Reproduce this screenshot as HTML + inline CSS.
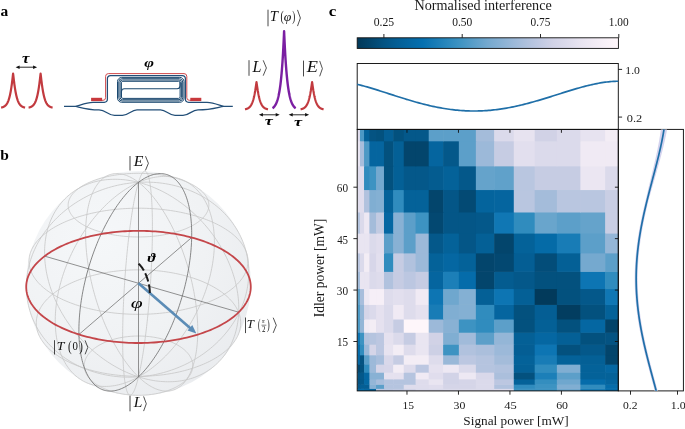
<!DOCTYPE html>
<html><head><meta charset="utf-8"><title>Figure</title>
<style>html,body{margin:0;padding:0;background:#fff;}body{width:685px;height:429px;overflow:hidden;position:relative;font-family:"Liberation Serif",serif;}svg{display:block;}</style>
</head><body>
<div style="position:absolute;left:0;top:0;width:685px;height:429px;will-change:transform"><svg width="685" height="429" viewBox="0 0 685 429">
<text transform="translate(0.45,15.61) scale(0.1546,0.1472)" font-family="Liberation Serif" font-size="100" font-style="normal" font-weight="bold" fill="#000">a</text>
<path d="M1.1,107.6 L1.2,107.58 L1.3,107.56 L1.4,107.54 L1.5,107.52 L1.6,107.5 L1.7,107.47 L1.8,107.45 L1.9,107.42 L2,107.4 L2.1,107.37 L2.2,107.34 L2.3,107.31 L2.4,107.28 L2.5,107.25 L2.6,107.22 L2.7,107.19 L2.8,107.15 L2.9,107.12 L3,107.08 L3.1,107.04 L3.2,107 L3.3,106.96 L3.4,106.91 L3.5,106.87 L3.6,106.82 L3.7,106.77 L3.8,106.72 L3.9,106.67 L4,106.61 L4.1,106.55 L4.2,106.49 L4.3,106.43 L4.4,106.37 L4.5,106.3 L4.6,106.23 L4.7,106.16 L4.8,106.09 L4.9,106.01 L5,105.93 L5.1,105.85 L5.2,105.77 L5.3,105.68 L5.4,105.58 L5.5,105.49 L5.6,105.39 L5.7,105.29 L5.8,105.18 L5.9,105.07 L6,104.96 L6.1,104.84 L6.2,104.72 L6.3,104.59 L6.4,104.46 L6.5,104.32 L6.6,104.18 L6.7,104.04 L6.8,103.88 L6.9,103.73 L7,103.56 L7.1,103.4 L7.2,103.22 L7.3,103.04 L7.4,102.85 L7.5,102.66 L7.6,102.46 L7.7,102.25 L7.8,102.04 L7.9,101.82 L8,101.59 L8.1,101.35 L8.2,101.1 L8.3,100.85 L8.4,100.58 L8.5,100.31 L8.6,100.03 L8.7,99.74 L8.8,99.44 L8.9,99.13 L9,98.81 L9.1,98.47 L9.2,98.13 L9.3,97.78 L9.4,97.41 L9.5,97.03 L9.6,96.64 L9.7,96.24 L9.8,95.82 L9.9,95.39 L10,94.95 L10.1,94.49 L10.2,94.02 L10.3,93.54 L10.4,93.04 L10.5,92.52 L10.6,91.99 L10.7,91.44 L10.8,90.88 L10.9,90.3 L11,89.7 L11.1,89.09 L11.2,88.45 L11.3,87.81 L11.4,87.14 L11.5,86.45 L11.6,85.75 L11.7,85.03 L11.8,84.29 L11.9,83.54 L12,82.76 L12.1,81.97 L12.2,81.17 L12.3,80.34 L12.4,79.51 L12.5,78.66 L12.6,77.8 L12.7,76.93 L12.8,76.06 L12.9,75.19 L13,74.35 L13.1,73.6 L13.2,74.35 L13.3,75.19 L13.4,76.06 L13.5,76.93 L13.6,77.8 L13.7,78.66 L13.8,79.51 L13.9,80.34 L14,81.17 L14.1,81.97 L14.2,82.76 L14.3,83.54 L14.4,84.29 L14.5,85.03 L14.6,85.75 L14.7,86.45 L14.8,87.14 L14.9,87.81 L15,88.45 L15.1,89.09 L15.2,89.7 L15.3,90.3 L15.4,90.88 L15.5,91.44 L15.6,91.99 L15.7,92.52 L15.8,93.04 L15.9,93.54 L16,94.02 L16.1,94.49 L16.2,94.95 L16.3,95.39 L16.4,95.82 L16.5,96.24 L16.6,96.64 L16.7,97.03 L16.8,97.41 L16.9,97.78 L17,98.13 L17.1,98.47 L17.2,98.81 L17.3,99.13 L17.4,99.44 L17.5,99.74 L17.6,100.03 L17.7,100.31 L17.8,100.58 L17.9,100.85 L18,101.1 L18.1,101.35 L18.2,101.59 L18.3,101.82 L18.4,102.04 L18.5,102.25 L18.6,102.46 L18.7,102.66 L18.8,102.85 L18.9,103.04 L19,103.22 L19.1,103.4 L19.2,103.56 L19.3,103.73 L19.4,103.88 L19.5,104.04 L19.6,104.18 L19.7,104.32 L19.8,104.46 L19.9,104.59 L20,104.72 L20.1,104.84 L20.2,104.96 L20.3,105.07 L20.4,105.18 L20.5,105.29 L20.6,105.39 L20.7,105.49 L20.8,105.58 L20.9,105.68 L21,105.77 L21.1,105.85 L21.2,105.93 L21.3,106.01 L21.4,106.09 L21.5,106.16 L21.6,106.23 L21.7,106.3 L21.8,106.37 L21.9,106.43 L22,106.49 L22.1,106.55 L22.2,106.61 L22.3,106.67 L22.4,106.72 L22.5,106.77 L22.6,106.82 L22.7,106.87 L22.8,106.91 L22.9,106.96 L23,107 L23.1,107.04 L23.2,107.08 L23.3,107.12 L23.4,107.15 L23.5,107.19 L23.6,107.22 L23.7,107.25 L23.8,107.28 L23.9,107.31 L24,107.34 L24.1,107.37 L24.2,107.4 L24.3,107.42 L24.4,107.45 L24.5,107.47 L24.6,107.5 L24.7,107.52 L24.8,107.54 L24.9,107.56 L25,107.58 L25.1,107.6" fill="none" stroke="#c23a3f" stroke-width="2.2" stroke-linejoin="round"/>
<path d="M28.6,107.6 L28.7,107.58 L28.8,107.56 L28.9,107.54 L29,107.52 L29.1,107.5 L29.2,107.47 L29.3,107.45 L29.4,107.42 L29.5,107.4 L29.6,107.37 L29.7,107.34 L29.8,107.31 L29.9,107.28 L30,107.25 L30.1,107.22 L30.2,107.19 L30.3,107.15 L30.4,107.12 L30.5,107.08 L30.6,107.04 L30.7,107 L30.8,106.96 L30.9,106.91 L31,106.87 L31.1,106.82 L31.2,106.77 L31.3,106.72 L31.4,106.67 L31.5,106.61 L31.6,106.55 L31.7,106.49 L31.8,106.43 L31.9,106.37 L32,106.3 L32.1,106.23 L32.2,106.16 L32.3,106.09 L32.4,106.01 L32.5,105.93 L32.6,105.85 L32.7,105.77 L32.8,105.68 L32.9,105.58 L33,105.49 L33.1,105.39 L33.2,105.29 L33.3,105.18 L33.4,105.07 L33.5,104.96 L33.6,104.84 L33.7,104.72 L33.8,104.59 L33.9,104.46 L34,104.32 L34.1,104.18 L34.2,104.04 L34.3,103.88 L34.4,103.73 L34.5,103.56 L34.6,103.4 L34.7,103.22 L34.8,103.04 L34.9,102.85 L35,102.66 L35.1,102.46 L35.2,102.25 L35.3,102.04 L35.4,101.82 L35.5,101.59 L35.6,101.35 L35.7,101.1 L35.8,100.85 L35.9,100.58 L36,100.31 L36.1,100.03 L36.2,99.74 L36.3,99.44 L36.4,99.13 L36.5,98.81 L36.6,98.47 L36.7,98.13 L36.8,97.78 L36.9,97.41 L37,97.03 L37.1,96.64 L37.2,96.24 L37.3,95.82 L37.4,95.39 L37.5,94.95 L37.6,94.49 L37.7,94.02 L37.8,93.54 L37.9,93.04 L38,92.52 L38.1,91.99 L38.2,91.44 L38.3,90.88 L38.4,90.3 L38.5,89.7 L38.6,89.09 L38.7,88.45 L38.8,87.81 L38.9,87.14 L39,86.45 L39.1,85.75 L39.2,85.03 L39.3,84.29 L39.4,83.54 L39.5,82.76 L39.6,81.97 L39.7,81.17 L39.8,80.34 L39.9,79.51 L40,78.66 L40.1,77.8 L40.2,76.93 L40.3,76.06 L40.4,75.19 L40.5,74.35 L40.6,73.6 L40.7,74.35 L40.8,75.19 L40.9,76.06 L41,76.93 L41.1,77.8 L41.2,78.66 L41.3,79.51 L41.4,80.34 L41.5,81.17 L41.6,81.97 L41.7,82.76 L41.8,83.54 L41.9,84.29 L42,85.03 L42.1,85.75 L42.2,86.45 L42.3,87.14 L42.4,87.81 L42.5,88.45 L42.6,89.09 L42.7,89.7 L42.8,90.3 L42.9,90.88 L43,91.44 L43.1,91.99 L43.2,92.52 L43.3,93.04 L43.4,93.54 L43.5,94.02 L43.6,94.49 L43.7,94.95 L43.8,95.39 L43.9,95.82 L44,96.24 L44.1,96.64 L44.2,97.03 L44.3,97.41 L44.4,97.78 L44.5,98.13 L44.6,98.47 L44.7,98.81 L44.8,99.13 L44.9,99.44 L45,99.74 L45.1,100.03 L45.2,100.31 L45.3,100.58 L45.4,100.85 L45.5,101.1 L45.6,101.35 L45.7,101.59 L45.8,101.82 L45.9,102.04 L46,102.25 L46.1,102.46 L46.2,102.66 L46.3,102.85 L46.4,103.04 L46.5,103.22 L46.6,103.4 L46.7,103.56 L46.8,103.73 L46.9,103.88 L47,104.04 L47.1,104.18 L47.2,104.32 L47.3,104.46 L47.4,104.59 L47.5,104.72 L47.6,104.84 L47.7,104.96 L47.8,105.07 L47.9,105.18 L48,105.29 L48.1,105.39 L48.2,105.49 L48.3,105.58 L48.4,105.68 L48.5,105.77 L48.6,105.85 L48.7,105.93 L48.8,106.01 L48.9,106.09 L49,106.16 L49.1,106.23 L49.2,106.3 L49.3,106.37 L49.4,106.43 L49.5,106.49 L49.6,106.55 L49.7,106.61 L49.8,106.67 L49.9,106.72 L50,106.77 L50.1,106.82 L50.2,106.87 L50.3,106.91 L50.4,106.96 L50.5,107 L50.6,107.04 L50.7,107.08 L50.8,107.12 L50.9,107.15 L51,107.19 L51.1,107.22 L51.2,107.25 L51.3,107.28 L51.4,107.31 L51.5,107.34 L51.6,107.37 L51.7,107.4 L51.8,107.42 L51.9,107.45 L52,107.47 L52.1,107.5 L52.2,107.52 L52.3,107.54 L52.4,107.56 L52.5,107.58 L52.6,107.6" fill="none" stroke="#c23a3f" stroke-width="2.2" stroke-linejoin="round"/>
<line x1="18.1" y1="67.2" x2="34.6" y2="67.2" stroke="#111" stroke-width="0.9"/>
<path d="M15.6,67.2 L19.6,65.4 L19.6,69Z M37.1,67.2 L33.1,65.4 L33.1,69Z" fill="#111"/>
<text transform="translate(22.11,62.92) scale(0.1671,0.1365)" font-family="Liberation Serif" font-size="100" font-style="italic" font-weight="bold" fill="#000">τ</text>
<path d="M64,106.4 L75.8,106.4 C81,107.6 88,109.9 99,109.9 C106,109.9 108,115.3 114.5,115.3 L122.5,115.3 C129,115.3 131,109.9 137,109.9 L160.5,109.9 C166.5,109.9 168.5,115.3 175,115.3 L183,115.3 C189.5,115.3 191.5,109.9 198,109.9 C210,109.9 217,107.6 223.5,106.4 L232.8,106.4" fill="none" stroke="#234f78" stroke-width="1.25"/>
<path d="M75.8,106.4 C80,105.4 86,102.4 93,102.3 L104.2,102.3 Q107.4,102.3 107.4,99.1 L107.4,78.8 Q107.4,75.6 110.6,75.6 L182.2,75.6 Q185.4,75.6 185.4,78.8 L185.4,99.1 Q185.4,102.3 188.6,102.3 L207,102.3 C214,102.4 219.5,105.4 223.5,106.4" fill="none" stroke="#234f78" stroke-width="1.25"/>
<path d="M102,100.3 L103,100.3 Q105.6,100.3 105.6,97.7 L105.6,76.4 Q105.6,73.6 108.4,73.6 L184,73.6 Q186.8,73.6 186.8,76.4 L186.8,97.7 Q186.8,100.3 189.4,100.3 L191,100.3" fill="none" stroke="#d0494c" stroke-width="1.0"/>
<rect x="91.1" y="97.8" width="11" height="3.3" fill="#c8383c"/>
<rect x="190.3" y="97.8" width="11" height="3.3" fill="#c8383c"/>
<rect x="117.5" y="77.4" width="66.5" height="24.9" rx="4.2" fill="none" stroke="#1b486f" stroke-width="1.0"/>
<rect x="118.8" y="78.7" width="63.9" height="22.3" rx="3.29" fill="none" stroke="#1b486f" stroke-width="1.0"/>
<rect x="120.1" y="80" width="61.3" height="19.7" rx="2.38" fill="none" stroke="#1b486f" stroke-width="1.0"/>
<rect x="121.4" y="81.3" width="58.7" height="17.1" rx="1.47" fill="none" stroke="#1b486f" stroke-width="1.0"/>
<path d="M121.4,97 L121.4,91.8 Q121.4,88.8 124.4,88.8 L177.1,88.8 Q180.1,88.8 180.1,85.8 L180.1,82" fill="none" stroke="#1b486f" stroke-width="1.1"/>
<text transform="translate(144.28,67.29) scale(0.1666,0.1344)" font-family="Liberation Serif" font-size="100" font-style="italic" font-weight="bold" fill="#000">φ</text>
<path d="M245,109.3 L245.1,109.28 L245.19,109.26 L245.29,109.24 L245.38,109.23 L245.48,109.2 L245.57,109.18 L245.67,109.16 L245.77,109.14 L245.86,109.11 L245.96,109.09 L246.05,109.06 L246.15,109.04 L246.25,109.01 L246.34,108.98 L246.44,108.95 L246.53,108.92 L246.63,108.89 L246.72,108.86 L246.82,108.82 L246.92,108.79 L247.01,108.75 L247.11,108.71 L247.2,108.68 L247.3,108.64 L247.4,108.59 L247.49,108.55 L247.59,108.5 L247.68,108.46 L247.78,108.41 L247.88,108.36 L247.97,108.31 L248.07,108.25 L248.16,108.2 L248.26,108.14 L248.35,108.08 L248.45,108.02 L248.55,107.95 L248.64,107.89 L248.74,107.82 L248.83,107.75 L248.93,107.67 L249.03,107.6 L249.12,107.52 L249.22,107.44 L249.31,107.35 L249.41,107.26 L249.5,107.17 L249.6,107.08 L249.7,106.98 L249.79,106.88 L249.89,106.78 L249.98,106.67 L250.08,106.56 L250.18,106.44 L250.27,106.32 L250.37,106.2 L250.46,106.07 L250.56,105.94 L250.65,105.8 L250.75,105.66 L250.85,105.52 L250.94,105.37 L251.04,105.21 L251.13,105.05 L251.23,104.88 L251.32,104.71 L251.42,104.54 L251.52,104.35 L251.61,104.16 L251.71,103.97 L251.8,103.76 L251.9,103.56 L252,103.34 L252.09,103.12 L252.19,102.89 L252.28,102.65 L252.38,102.41 L252.47,102.15 L252.57,101.89 L252.67,101.62 L252.76,101.35 L252.86,101.06 L252.95,100.77 L253.05,100.46 L253.15,100.15 L253.24,99.83 L253.34,99.49 L253.43,99.15 L253.53,98.8 L253.62,98.43 L253.72,98.06 L253.82,97.67 L253.91,97.27 L254.01,96.87 L254.1,96.45 L254.2,96.01 L254.3,95.57 L254.39,95.11 L254.49,94.64 L254.58,94.16 L254.68,93.67 L254.78,93.16 L254.87,92.64 L254.97,92.1 L255.06,91.56 L255.16,91 L255.25,90.42 L255.35,89.84 L255.45,89.24 L255.54,88.63 L255.64,88 L255.73,87.37 L255.83,86.72 L255.93,86.07 L256.02,85.41 L256.12,84.75 L256.21,84.08 L256.31,83.42 L256.4,82.78 L256.5,82.2 L256.6,82.78 L256.69,83.42 L256.79,84.08 L256.88,84.75 L256.98,85.41 L257.07,86.07 L257.17,86.72 L257.27,87.37 L257.36,88 L257.46,88.63 L257.55,89.24 L257.65,89.84 L257.75,90.42 L257.84,91 L257.94,91.56 L258.03,92.1 L258.13,92.64 L258.23,93.16 L258.32,93.67 L258.42,94.16 L258.51,94.64 L258.61,95.11 L258.7,95.57 L258.8,96.01 L258.9,96.45 L258.99,96.87 L259.09,97.27 L259.18,97.67 L259.28,98.06 L259.38,98.43 L259.47,98.8 L259.57,99.15 L259.66,99.49 L259.76,99.83 L259.85,100.15 L259.95,100.46 L260.05,100.77 L260.14,101.06 L260.24,101.35 L260.33,101.62 L260.43,101.89 L260.52,102.15 L260.62,102.41 L260.72,102.65 L260.81,102.89 L260.91,103.12 L261,103.34 L261.1,103.56 L261.2,103.76 L261.29,103.97 L261.39,104.16 L261.48,104.35 L261.58,104.54 L261.68,104.71 L261.77,104.88 L261.87,105.05 L261.96,105.21 L262.06,105.37 L262.15,105.52 L262.25,105.66 L262.35,105.8 L262.44,105.94 L262.54,106.07 L262.63,106.2 L262.73,106.32 L262.82,106.44 L262.92,106.56 L263.02,106.67 L263.11,106.78 L263.21,106.88 L263.3,106.98 L263.4,107.08 L263.5,107.17 L263.59,107.26 L263.69,107.35 L263.78,107.44 L263.88,107.52 L263.98,107.6 L264.07,107.67 L264.17,107.75 L264.26,107.82 L264.36,107.89 L264.45,107.95 L264.55,108.02 L264.65,108.08 L264.74,108.14 L264.84,108.2 L264.93,108.25 L265.03,108.31 L265.12,108.36 L265.22,108.41 L265.32,108.46 L265.41,108.5 L265.51,108.55 L265.6,108.59 L265.7,108.64 L265.8,108.68 L265.89,108.71 L265.99,108.75 L266.08,108.79 L266.18,108.82 L266.27,108.86 L266.37,108.89 L266.47,108.92 L266.56,108.95 L266.66,108.98 L266.75,109.01 L266.85,109.04 L266.95,109.06 L267.04,109.09 L267.14,109.11 L267.23,109.14 L267.33,109.16 L267.43,109.18 L267.52,109.2 L267.62,109.23 L267.71,109.24 L267.81,109.26 L267.9,109.28 L268,109.3" fill="none" stroke="#c23a3f" stroke-width="2.2" stroke-linejoin="round"/>
<path d="M300.6,109.3 L300.7,109.28 L300.79,109.26 L300.89,109.24 L300.98,109.23 L301.08,109.2 L301.18,109.18 L301.27,109.16 L301.37,109.14 L301.46,109.11 L301.56,109.09 L301.65,109.06 L301.75,109.04 L301.85,109.01 L301.94,108.98 L302.04,108.95 L302.13,108.92 L302.23,108.89 L302.33,108.86 L302.42,108.82 L302.52,108.79 L302.61,108.75 L302.71,108.71 L302.8,108.68 L302.9,108.64 L303,108.59 L303.09,108.55 L303.19,108.5 L303.28,108.46 L303.38,108.41 L303.48,108.36 L303.57,108.31 L303.67,108.25 L303.76,108.2 L303.86,108.14 L303.95,108.08 L304.05,108.02 L304.15,107.95 L304.24,107.89 L304.34,107.82 L304.43,107.75 L304.53,107.67 L304.62,107.6 L304.72,107.52 L304.82,107.44 L304.91,107.35 L305.01,107.26 L305.1,107.17 L305.2,107.08 L305.3,106.98 L305.39,106.88 L305.49,106.78 L305.58,106.67 L305.68,106.56 L305.78,106.44 L305.87,106.32 L305.97,106.2 L306.06,106.07 L306.16,105.94 L306.25,105.8 L306.35,105.66 L306.45,105.52 L306.54,105.37 L306.64,105.21 L306.73,105.05 L306.83,104.88 L306.93,104.71 L307.02,104.54 L307.12,104.35 L307.21,104.16 L307.31,103.97 L307.4,103.76 L307.5,103.56 L307.6,103.34 L307.69,103.12 L307.79,102.89 L307.88,102.65 L307.98,102.41 L308.08,102.15 L308.17,101.89 L308.27,101.62 L308.36,101.35 L308.46,101.06 L308.55,100.77 L308.65,100.46 L308.75,100.15 L308.84,99.83 L308.94,99.49 L309.03,99.15 L309.13,98.8 L309.23,98.43 L309.32,98.06 L309.42,97.67 L309.51,97.27 L309.61,96.87 L309.7,96.45 L309.8,96.01 L309.9,95.57 L309.99,95.11 L310.09,94.64 L310.18,94.16 L310.28,93.67 L310.38,93.16 L310.47,92.64 L310.57,92.1 L310.66,91.56 L310.76,91 L310.85,90.42 L310.95,89.84 L311.05,89.24 L311.14,88.63 L311.24,88 L311.33,87.37 L311.43,86.72 L311.53,86.07 L311.62,85.41 L311.72,84.75 L311.81,84.08 L311.91,83.42 L312,82.78 L312.1,82.2 L312.2,82.78 L312.29,83.42 L312.39,84.08 L312.48,84.75 L312.58,85.41 L312.68,86.07 L312.77,86.72 L312.87,87.37 L312.96,88 L313.06,88.63 L313.15,89.24 L313.25,89.84 L313.35,90.42 L313.44,91 L313.54,91.56 L313.63,92.1 L313.73,92.64 L313.83,93.16 L313.92,93.67 L314.02,94.16 L314.11,94.64 L314.21,95.11 L314.3,95.57 L314.4,96.01 L314.5,96.45 L314.59,96.87 L314.69,97.27 L314.78,97.67 L314.88,98.06 L314.98,98.43 L315.07,98.8 L315.17,99.15 L315.26,99.49 L315.36,99.83 L315.45,100.15 L315.55,100.46 L315.65,100.77 L315.74,101.06 L315.84,101.35 L315.93,101.62 L316.03,101.89 L316.12,102.15 L316.22,102.41 L316.32,102.65 L316.41,102.89 L316.51,103.12 L316.6,103.34 L316.7,103.56 L316.8,103.76 L316.89,103.97 L316.99,104.16 L317.08,104.35 L317.18,104.54 L317.28,104.71 L317.37,104.88 L317.47,105.05 L317.56,105.21 L317.66,105.37 L317.75,105.52 L317.85,105.66 L317.95,105.8 L318.04,105.94 L318.14,106.07 L318.23,106.2 L318.33,106.32 L318.43,106.44 L318.52,106.56 L318.62,106.67 L318.71,106.78 L318.81,106.88 L318.9,106.98 L319,107.08 L319.1,107.17 L319.19,107.26 L319.29,107.35 L319.38,107.44 L319.48,107.52 L319.58,107.6 L319.67,107.67 L319.77,107.75 L319.86,107.82 L319.96,107.89 L320.05,107.95 L320.15,108.02 L320.25,108.08 L320.34,108.14 L320.44,108.2 L320.53,108.25 L320.63,108.31 L320.73,108.36 L320.82,108.41 L320.92,108.46 L321.01,108.5 L321.11,108.55 L321.2,108.59 L321.3,108.64 L321.4,108.68 L321.49,108.71 L321.59,108.75 L321.68,108.79 L321.78,108.82 L321.88,108.86 L321.97,108.89 L322.07,108.92 L322.16,108.95 L322.26,108.98 L322.35,109.01 L322.45,109.04 L322.55,109.06 L322.64,109.09 L322.74,109.11 L322.83,109.14 L322.93,109.16 L323.03,109.18 L323.12,109.2 L323.22,109.23 L323.31,109.24 L323.41,109.26 L323.5,109.28 L323.6,109.3" fill="none" stroke="#c23a3f" stroke-width="2.2" stroke-linejoin="round"/>
<path d="M272.5,108.3 L272.6,108.23 L272.69,108.16 L272.79,108.08 L272.89,108.01 L272.98,107.93 L273.08,107.85 L273.18,107.76 L273.27,107.68 L273.37,107.59 L273.47,107.5 L273.56,107.4 L273.66,107.3 L273.76,107.2 L273.85,107.1 L273.95,107 L274.05,106.89 L274.14,106.77 L274.24,106.66 L274.34,106.54 L274.43,106.42 L274.53,106.29 L274.63,106.16 L274.72,106.03 L274.82,105.89 L274.92,105.75 L275.01,105.6 L275.11,105.45 L275.21,105.3 L275.3,105.14 L275.4,104.97 L275.5,104.8 L275.59,104.63 L275.69,104.45 L275.79,104.26 L275.88,104.07 L275.98,103.88 L276.08,103.68 L276.17,103.47 L276.27,103.26 L276.37,103.04 L276.46,102.81 L276.56,102.57 L276.66,102.33 L276.75,102.09 L276.85,101.83 L276.95,101.57 L277.04,101.3 L277.14,101.02 L277.24,100.73 L277.33,100.44 L277.43,100.14 L277.53,99.82 L277.62,99.5 L277.72,99.17 L277.82,98.83 L277.91,98.47 L278.01,98.11 L278.11,97.74 L278.2,97.35 L278.3,96.96 L278.4,96.55 L278.49,96.13 L278.59,95.7 L278.69,95.26 L278.78,94.8 L278.88,94.33 L278.98,93.84 L279.07,93.34 L279.17,92.83 L279.27,92.29 L279.36,91.75 L279.46,91.19 L279.56,90.61 L279.65,90.01 L279.75,89.4 L279.85,88.77 L279.94,88.11 L280.04,87.44 L280.14,86.75 L280.23,86.04 L280.33,85.31 L280.43,84.56 L280.52,83.78 L280.62,82.98 L280.72,82.16 L280.81,81.31 L280.91,80.44 L281.01,79.54 L281.1,78.62 L281.2,77.66 L281.3,76.68 L281.39,75.67 L281.49,74.63 L281.59,73.56 L281.68,72.46 L281.78,71.32 L281.88,70.15 L281.97,68.95 L282.07,67.71 L282.17,66.43 L282.26,65.12 L282.36,63.76 L282.46,62.37 L282.55,60.93 L282.65,59.46 L282.75,57.93 L282.84,56.37 L282.94,54.75 L283.04,53.09 L283.13,51.38 L283.23,49.62 L283.33,47.8 L283.42,45.93 L283.52,44.01 L283.62,42.03 L283.71,39.99 L283.81,37.89 L283.91,35.72 L284,33.49 L284.1,31.2 L284.2,33.49 L284.29,35.72 L284.39,37.89 L284.49,39.99 L284.58,42.03 L284.68,44.01 L284.78,45.93 L284.87,47.8 L284.97,49.62 L285.07,51.38 L285.16,53.09 L285.26,54.75 L285.36,56.37 L285.45,57.93 L285.55,59.46 L285.65,60.93 L285.74,62.37 L285.84,63.76 L285.94,65.12 L286.03,66.43 L286.13,67.71 L286.23,68.95 L286.32,70.15 L286.42,71.32 L286.52,72.46 L286.61,73.56 L286.71,74.63 L286.81,75.67 L286.9,76.68 L287,77.66 L287.1,78.62 L287.19,79.54 L287.29,80.44 L287.39,81.31 L287.48,82.16 L287.58,82.98 L287.68,83.78 L287.77,84.56 L287.87,85.31 L287.97,86.04 L288.06,86.75 L288.16,87.44 L288.26,88.11 L288.35,88.77 L288.45,89.4 L288.55,90.01 L288.64,90.61 L288.74,91.19 L288.84,91.75 L288.93,92.29 L289.03,92.83 L289.13,93.34 L289.22,93.84 L289.32,94.33 L289.42,94.8 L289.51,95.26 L289.61,95.7 L289.71,96.13 L289.8,96.55 L289.9,96.96 L290,97.35 L290.09,97.74 L290.19,98.11 L290.29,98.47 L290.38,98.83 L290.48,99.17 L290.58,99.5 L290.67,99.82 L290.77,100.14 L290.87,100.44 L290.96,100.73 L291.06,101.02 L291.16,101.3 L291.25,101.57 L291.35,101.83 L291.45,102.09 L291.54,102.33 L291.64,102.57 L291.74,102.81 L291.83,103.04 L291.93,103.26 L292.03,103.47 L292.12,103.68 L292.22,103.88 L292.32,104.07 L292.41,104.26 L292.51,104.45 L292.61,104.63 L292.7,104.8 L292.8,104.97 L292.9,105.14 L292.99,105.3 L293.09,105.45 L293.19,105.6 L293.28,105.75 L293.38,105.89 L293.48,106.03 L293.57,106.16 L293.67,106.29 L293.77,106.42 L293.86,106.54 L293.96,106.66 L294.06,106.77 L294.15,106.89 L294.25,107 L294.35,107.1 L294.44,107.2 L294.54,107.3 L294.64,107.4 L294.73,107.5 L294.83,107.59 L294.93,107.68 L295.02,107.76 L295.12,107.85 L295.22,107.93 L295.31,108.01 L295.41,108.08 L295.51,108.16 L295.6,108.23 L295.7,108.3" fill="none" stroke="#7b1fa2" stroke-width="2.4" stroke-linejoin="round"/>
<line x1="261.4" y1="114.8" x2="277.2" y2="114.8" stroke="#111" stroke-width="0.9"/>
<path d="M258.9,114.8 L262.9,113 L262.9,116.6Z M279.7,114.8 L275.7,113 L275.7,116.6Z" fill="#111"/>
<line x1="291.2" y1="114.8" x2="306.6" y2="114.8" stroke="#111" stroke-width="0.9"/>
<path d="M288.7,114.8 L292.7,113 L292.7,116.6Z M309.1,114.8 L305.1,113 L305.1,116.6Z" fill="#111"/>
<text transform="translate(264.68,124.62) scale(0.1805,0.1301)" font-family="Liberation Serif" font-size="100" font-style="italic" font-weight="bold" fill="#000">τ</text>
<text transform="translate(294.08,125.82) scale(0.1805,0.1301)" font-family="Liberation Serif" font-size="100" font-style="italic" font-weight="bold" fill="#000">τ</text>
<line x1="249" y1="60.2" x2="249" y2="75.8" stroke="#1a1a1a" stroke-width="0.8"/>
<text transform="translate(252.44,72.25) scale(0.1614,0.1649)" font-family="Liberation Serif" font-size="100" font-style="italic" font-weight="normal" fill="#111">L</text>
<path d="M263.2,60.3 L266.4,68 L263.2,75.7" fill="none" stroke="#1a1a1a" stroke-width="0.75" stroke-linejoin="miter"/>
<line x1="303.5" y1="60.6" x2="303.5" y2="76.4" stroke="#1a1a1a" stroke-width="0.8"/>
<text transform="translate(306.76,72.25) scale(0.1830,0.1604)" font-family="Liberation Serif" font-size="100" font-style="italic" font-weight="normal" fill="#111">E</text>
<path d="M319.7,60.9 L322.4,68.6 L319.7,76.3" fill="none" stroke="#1a1a1a" stroke-width="0.75" stroke-linejoin="miter"/>
<line x1="268" y1="9.7" x2="268" y2="26.3" stroke="#1a1a1a" stroke-width="0.8"/>
<text transform="translate(269.79,21.35) scale(0.1473,0.1405)" font-family="Liberation Serif" font-size="100" font-style="italic" font-weight="normal" fill="#111">T</text>
<text transform="translate(280.62,21.19) scale(0.0973,0.1390)" font-family="Liberation Serif" font-size="100" font-style="normal" font-weight="normal" fill="#111">(</text>
<text transform="translate(283.84,21.04) scale(0.1371,0.1271)" font-family="Liberation Serif" font-size="100" font-style="italic" font-weight="normal" fill="#111">φ</text>
<text transform="translate(292.36,21.19) scale(0.0896,0.1390)" font-family="Liberation Serif" font-size="100" font-style="normal" font-weight="normal" fill="#111">)</text>
<path d="M297.5,9.9 L300.4,18 L297.5,26.1" fill="none" stroke="#1a1a1a" stroke-width="0.75" stroke-linejoin="miter"/>
<text transform="translate(0.25,160.21) scale(0.1551,0.1435)" font-family="Liberation Serif" font-size="100" font-style="normal" font-weight="bold" fill="#000">b</text>
<defs><radialGradient id="sph" cx="0.33" cy="0.3" r="0.85"><stop offset="0" stop-color="#f5f7f9"/><stop offset="0.55" stop-color="#f0f2f4"/><stop offset="1" stop-color="#e9ebee"/></radialGradient></defs>
<circle cx="138.5" cy="283.26" r="112.36" fill="url(#sph)"/>
<path d="M138.5,182.33 L141.14,183.04 L143.78,183.82 L146.42,184.67 L149.06,185.6 L151.7,186.6 L154.33,187.66 L156.96,188.8 L159.57,190.01 L162.18,191.28 L164.77,192.62 L167.34,194.03 L169.9,195.51 L172.43,197.05 L174.95,198.65 L177.44,200.31 L179.9,202.04 L182.34,203.83 L184.75,205.67 L187.12,207.57 L189.46,209.53 L191.77,211.54 L194.04,213.61 L196.27,215.72 L198.46,217.89 L200.6,220.1 L202.71,222.36 L204.76,224.66 L206.77,227.01 L208.73,229.39 L210.64,231.82 L212.49,234.28 L214.29,236.77 L216.04,239.3 L217.73,241.86 L219.36,244.45 L220.93,247.06 L222.45,249.7 L223.9,252.36 L225.28,255.04 L226.61,257.74 L227.87,260.46 L229.06,263.18 L230.19,265.92 L231.25,268.67 L232.25,271.43 L233.17,274.19 L234.03,276.96 L234.82,279.73 L235.53,282.49 L236.18,285.25 L236.75,288.01 L237.26,290.76 L237.69,293.49 L238.05,296.22 L238.34,298.93 L238.56,301.63 L238.71,304.31 L238.79,306.97 L238.79,309.6 L238.72,312.21 L238.59,314.8 L238.38,317.36 L238.1,319.89 L237.75,322.39 L237.34,324.85 L236.85,327.28 L236.3,329.68 L235.68,332.03 L234.99,334.35 L234.23,336.62 L233.42,338.85 L232.53,341.04 L231.59,343.18 L230.58,345.28 L229.51,347.32 L228.37,349.32 L227.18,351.27 L225.93,353.16 L224.63,355 L223.26,356.79 L221.84,358.52 L220.37,360.19 L218.85,361.81 L217.27,363.36 L215.65,364.86 L213.97,366.3 L212.25,367.68 L210.48,369 L208.67,370.25 L206.81,371.45 L204.91,372.58 L202.98,373.64 L201,374.64 L198.98,375.58 L196.93,376.45 L194.85,377.26 L192.73,378 L190.58,378.67 L188.4,379.28 L186.2,379.82 L183.96,380.3 L181.7,380.71 L179.42,381.05 L177.12,381.33 L174.79,381.54 L172.45,381.68 L170.08,381.76 L167.71,381.77 L165.31,381.71 L162.91,381.59 L160.49,381.41 L158.07,381.16 L155.63,380.85 L153.19,380.47 L150.75,380.02 L148.3,379.52 L145.85,378.95 L143.4,378.32 L140.95,377.63 L138.5,376.87" fill="none" stroke="#c6c6c6" stroke-width="0.8" />
<path d="M138.5,182.33 L141.52,182.19 L144.54,182.13 L147.55,182.14 L150.55,182.22 L153.55,182.37 L156.53,182.59 L159.49,182.88 L162.44,183.25 L165.37,183.69 L168.27,184.19 L171.16,184.77 L174.01,185.41 L176.84,186.13 L179.64,186.91 L182.4,187.76 L185.13,188.67 L187.83,189.65 L190.48,190.7 L193.1,191.81 L195.67,192.98 L198.21,194.22 L200.69,195.51 L203.13,196.87 L205.51,198.28 L207.85,199.76 L210.14,201.28 L212.37,202.87 L214.54,204.51 L216.66,206.19 L218.72,207.94 L220.72,209.73 L222.66,211.56 L224.54,213.45 L226.35,215.38 L228.1,217.35 L229.78,219.37 L231.4,221.43 L232.95,223.52 L234.43,225.66 L235.84,227.83 L237.18,230.03 L238.45,232.26 L239.65,234.53 L240.78,236.83 L241.83,239.15 L242.81,241.5 L243.72,243.87 L244.55,246.27 L245.31,248.69 L245.99,251.12 L246.6,253.57 L247.13,256.04 L247.59,258.52 L247.97,261.01 L248.28,263.52 L248.51,266.03 L248.66,268.55 L248.74,271.07 L248.75,273.6 L248.68,276.13 L248.53,278.65 L248.31,281.18 L248.02,283.7 L247.65,286.22 L247.21,288.73 L246.7,291.24 L246.12,293.73 L245.46,296.21 L244.73,298.68 L243.94,301.13 L243.07,303.57 L242.13,305.99 L241.13,308.39 L240.06,310.77 L238.92,313.12 L237.72,315.46 L236.45,317.76 L235.12,320.04 L233.73,322.3 L232.27,324.52 L230.76,326.71 L229.18,328.87 L227.55,331 L225.86,333.09 L224.11,335.15 L222.31,337.17 L220.46,339.15 L218.55,341.09 L216.59,342.99 L214.59,344.85 L212.53,346.67 L210.43,348.44 L208.28,350.17 L206.09,351.85 L203.85,353.49 L201.58,355.07 L199.26,356.61 L196.9,358.1 L194.51,359.54 L192.08,360.93 L189.62,362.26 L187.13,363.54 L184.6,364.77 L182.05,365.95 L179.46,367.06 L176.85,368.13 L174.22,369.13 L171.56,370.09 L168.89,370.98 L166.19,371.81 L163.47,372.59 L160.74,373.31 L158,373.96 L155.24,374.56 L152.47,375.1 L149.69,375.58 L146.9,375.99 L144.1,376.35 L141.3,376.64 L138.5,376.87" fill="none" stroke="#c6c6c6" stroke-width="0.8" />
<path d="M138.5,182.33 L140.66,181.42 L142.8,180.59 L144.94,179.83 L147.07,179.15 L149.19,178.54 L151.3,178.01 L153.39,177.55 L155.46,177.17 L157.52,176.87 L159.55,176.64 L161.57,176.48 L163.56,176.4 L165.53,176.4 L167.48,176.47 L169.4,176.62 L171.29,176.83 L173.15,177.13 L174.99,177.49 L176.79,177.93 L178.56,178.44 L180.3,179.02 L182,179.67 L183.67,180.39 L185.3,181.17 L186.89,182.03 L188.45,182.95 L189.97,183.94 L191.44,184.99 L192.88,186.11 L194.28,187.29 L195.63,188.53 L196.94,189.83 L198.21,191.19 L199.43,192.61 L200.61,194.08 L201.74,195.61 L202.82,197.2 L203.86,198.84 L204.86,200.53 L205.8,202.27 L206.7,204.06 L207.55,205.9 L208.35,207.79 L209.1,209.72 L209.8,211.69 L210.45,213.71 L211.06,215.77 L211.61,217.87 L212.12,220 L212.57,222.18 L212.98,224.38 L213.33,226.62 L213.63,228.9 L213.89,231.2 L214.09,233.53 L214.24,235.89 L214.35,238.28 L214.4,240.69 L214.4,243.13 L214.36,245.58 L214.26,248.06 L214.11,250.55 L213.92,253.06 L213.68,255.59 L213.38,258.13 L213.04,260.69 L212.65,263.25 L212.22,265.82 L211.73,268.4 L211.2,270.99 L210.63,273.58 L210,276.18 L209.33,278.78 L208.62,281.38 L207.86,283.97 L207.06,286.57 L206.21,289.16 L205.32,291.74 L204.38,294.32 L203.41,296.89 L202.39,299.45 L201.33,301.99 L200.24,304.53 L199.1,307.05 L197.92,309.55 L196.71,312.04 L195.45,314.51 L194.16,316.96 L192.84,319.38 L191.48,321.79 L190.08,324.17 L188.65,326.52 L187.19,328.85 L185.69,331.15 L184.16,333.42 L182.61,335.66 L181.02,337.86 L179.4,340.04 L177.76,342.17 L176.09,344.28 L174.39,346.34 L172.67,348.36 L170.92,350.35 L169.15,352.29 L167.36,354.2 L165.54,356.06 L163.71,357.87 L161.85,359.64 L159.98,361.36 L158.09,363.03 L156.19,364.65 L154.27,366.23 L152.33,367.75 L150.39,369.22 L148.43,370.63 L146.46,371.99 L144.48,373.3 L142.49,374.55 L140.5,375.74 L138.5,376.87" fill="none" stroke="#c6c6c6" stroke-width="0.8" />
<path d="M138.5,182.33 L138.9,181.04 L139.3,179.83 L139.7,178.7 L140.1,177.64 L140.49,176.66 L140.88,175.76 L141.27,174.94 L141.65,174.2 L142.03,173.54 L142.41,172.96 L142.78,172.45 L143.15,172.03 L143.51,171.68 L143.87,171.42 L144.23,171.23 L144.57,171.12 L144.92,171.08 L145.25,171.13 L145.58,171.25 L145.91,171.45 L146.23,171.72 L146.54,172.07 L146.84,172.49 L147.14,172.99 L147.43,173.56 L147.71,174.2 L147.99,174.92 L148.26,175.7 L148.52,176.55 L148.78,177.48 L149.02,178.47 L149.26,179.52 L149.49,180.64 L149.71,181.83 L149.92,183.08 L150.13,184.39 L150.33,185.76 L150.51,187.19 L150.69,188.69 L150.87,190.23 L151.03,191.84 L151.18,193.5 L151.33,195.21 L151.46,196.98 L151.59,198.8 L151.71,200.66 L151.82,202.58 L151.92,204.54 L152.01,206.55 L152.09,208.61 L152.16,210.7 L152.22,212.84 L152.28,215.02 L152.33,217.24 L152.36,219.49 L152.39,221.78 L152.41,224.11 L152.42,226.47 L152.42,228.86 L152.41,231.28 L152.39,233.73 L152.37,236.21 L152.33,238.71 L152.29,241.24 L152.23,243.79 L152.17,246.37 L152.1,248.96 L152.02,251.57 L151.94,254.2 L151.84,256.85 L151.74,259.51 L151.62,262.18 L151.5,264.86 L151.37,267.56 L151.24,270.26 L151.09,272.97 L150.94,275.69 L150.78,278.4 L150.61,281.13 L150.43,283.85 L150.25,286.57 L150.06,289.29 L149.86,292.01 L149.65,294.72 L149.44,297.43 L149.22,300.12 L148.99,302.81 L148.75,305.49 L148.51,308.16 L148.27,310.81 L148.01,313.45 L147.75,316.07 L147.48,318.67 L147.21,321.25 L146.93,323.82 L146.65,326.35 L146.36,328.87 L146.06,331.36 L145.76,333.82 L145.45,336.26 L145.14,338.67 L144.83,341.04 L144.51,343.38 L144.18,345.69 L143.85,347.96 L143.52,350.2 L143.18,352.4 L142.84,354.56 L142.49,356.67 L142.14,358.75 L141.79,360.78 L141.43,362.77 L141.07,364.71 L140.71,366.6 L140.35,368.44 L139.98,370.23 L139.61,371.97 L139.24,373.66 L138.87,375.3 L138.5,376.87" fill="none" stroke="#c6c6c6" stroke-width="0.8" />
<path d="M138.5,182.33 L136.98,181.21 L135.47,180.16 L133.97,179.19 L132.47,178.3 L130.98,177.48 L129.51,176.74 L128.04,176.08 L126.59,175.49 L125.15,174.98 L123.72,174.56 L122.31,174.2 L120.92,173.93 L119.54,173.73 L118.18,173.61 L116.84,173.57 L115.52,173.6 L114.22,173.71 L112.94,173.89 L111.69,174.15 L110.45,174.48 L109.24,174.88 L108.06,175.36 L106.9,175.91 L105.76,176.54 L104.66,177.23 L103.57,177.99 L102.52,178.82 L101.49,179.72 L100.5,180.69 L99.53,181.72 L98.59,182.82 L97.68,183.98 L96.81,185.2 L95.96,186.49 L95.14,187.83 L94.36,189.24 L93.61,190.71 L92.89,192.23 L92.2,193.8 L91.55,195.43 L90.93,197.12 L90.34,198.86 L89.79,200.64 L89.27,202.48 L88.78,204.37 L88.33,206.3 L87.92,208.27 L87.53,210.3 L87.19,212.36 L86.87,214.46 L86.59,216.61 L86.35,218.79 L86.14,221.01 L85.96,223.26 L85.82,225.55 L85.72,227.87 L85.65,230.22 L85.61,232.61 L85.61,235.02 L85.64,237.45 L85.71,239.91 L85.81,242.4 L85.94,244.91 L86.11,247.43 L86.31,249.98 L86.55,252.55 L86.82,255.13 L87.12,257.72 L87.45,260.33 L87.82,262.95 L88.22,265.58 L88.65,268.22 L89.11,270.87 L89.6,273.53 L90.13,276.18 L90.68,278.84 L91.27,281.5 L91.88,284.17 L92.53,286.83 L93.2,289.48 L93.91,292.14 L94.64,294.78 L95.4,297.42 L96.19,300.05 L97,302.67 L97.85,305.28 L98.71,307.87 L99.61,310.45 L100.53,313.02 L101.47,315.56 L102.44,318.09 L103.44,320.59 L104.45,323.08 L105.49,325.54 L106.55,327.98 L107.64,330.39 L108.74,332.77 L109.87,335.12 L111.01,337.44 L112.18,339.74 L113.36,341.99 L114.56,344.22 L115.78,346.41 L117.01,348.56 L118.27,350.67 L119.53,352.74 L120.82,354.77 L122.11,356.76 L123.42,358.71 L124.74,360.61 L126.08,362.46 L127.42,364.27 L128.78,366.03 L130.15,367.74 L131.52,369.4 L132.9,371 L134.29,372.55 L135.69,374.05 L137.09,375.49 L138.5,376.87" fill="none" stroke="#c6c6c6" stroke-width="0.8" />
<path d="M138.5,182.33 L135.87,181.7 L133.24,181.13 L130.62,180.65 L128.01,180.23 L125.42,179.89 L122.83,179.62 L120.27,179.43 L117.72,179.31 L115.2,179.27 L112.69,179.3 L110.21,179.4 L107.76,179.57 L105.33,179.82 L102.93,180.14 L100.56,180.53 L98.23,180.99 L95.92,181.52 L93.66,182.12 L91.43,182.79 L89.24,183.53 L87.08,184.33 L84.97,185.21 L82.9,186.14 L80.88,187.15 L78.9,188.22 L76.97,189.35 L75.08,190.54 L73.25,191.79 L71.46,193.1 L69.72,194.48 L68.04,195.9 L66.41,197.39 L64.83,198.93 L63.3,200.52 L61.84,202.17 L60.42,203.87 L59.07,205.61 L57.77,207.41 L56.53,209.25 L55.35,211.14 L54.23,213.07 L53.17,215.04 L52.17,217.06 L51.23,219.11 L50.35,221.21 L49.53,223.34 L48.77,225.5 L48.08,227.7 L47.45,229.93 L46.88,232.19 L46.37,234.49 L45.93,236.8 L45.55,239.15 L45.23,241.52 L44.98,243.91 L44.78,246.32 L44.66,248.75 L44.59,251.2 L44.59,253.67 L44.64,256.15 L44.76,258.64 L44.95,261.15 L45.19,263.67 L45.5,266.19 L45.86,268.72 L46.29,271.26 L46.78,273.8 L47.32,276.34 L47.93,278.89 L48.59,281.43 L49.31,283.97 L50.09,286.51 L50.93,289.04 L51.83,291.56 L52.78,294.08 L53.78,296.58 L54.84,299.08 L55.95,301.56 L57.12,304.03 L58.34,306.48 L59.61,308.92 L60.93,311.33 L62.3,313.73 L63.72,316.1 L65.18,318.45 L66.7,320.78 L68.26,323.08 L69.86,325.36 L71.51,327.61 L73.21,329.83 L74.94,332.01 L76.72,334.17 L78.54,336.29 L80.39,338.38 L82.29,340.43 L84.22,342.44 L86.19,344.42 L88.19,346.36 L90.23,348.25 L92.3,350.11 L94.39,351.92 L96.52,353.69 L98.68,355.41 L100.87,357.09 L103.08,358.72 L105.32,360.3 L107.58,361.83 L109.86,363.31 L112.16,364.74 L114.49,366.12 L116.83,367.45 L119.19,368.72 L121.56,369.94 L123.95,371.1 L126.35,372.21 L128.77,373.26 L131.19,374.25 L133.62,375.19 L136.06,376.06 L138.5,376.87" fill="none" stroke="#c6c6c6" stroke-width="0.8" />
<path d="M138.5,182.33 L135.48,182.54 L132.46,182.82 L129.44,183.17 L126.42,183.6 L123.42,184.09 L120.42,184.66 L117.44,185.29 L114.47,186 L111.52,186.77 L108.59,187.62 L105.68,188.53 L102.8,189.51 L99.94,190.55 L97.1,191.66 L94.3,192.84 L91.53,194.08 L88.8,195.39 L86.1,196.75 L83.44,198.18 L80.82,199.66 L78.25,201.21 L75.72,202.81 L73.23,204.47 L70.8,206.18 L68.41,207.95 L66.08,209.76 L63.8,211.63 L61.57,213.55 L59.4,215.51 L57.29,217.53 L55.24,219.58 L53.25,221.68 L51.33,223.82 L49.46,225.99 L47.67,228.21 L45.93,230.46 L44.27,232.75 L42.68,235.07 L41.15,237.41 L39.7,239.79 L38.32,242.2 L37.01,244.62 L35.77,247.08 L34.61,249.55 L33.52,252.05 L32.51,254.56 L31.57,257.08 L30.71,259.62 L29.93,262.18 L29.23,264.74 L28.6,267.31 L28.05,269.89 L27.57,272.47 L27.18,275.06 L26.86,277.64 L26.62,280.23 L26.46,282.81 L26.38,285.39 L26.38,287.96 L26.45,290.52 L26.6,293.07 L26.82,295.61 L27.13,298.14 L27.51,300.65 L27.96,303.14 L28.49,305.62 L29.1,308.07 L29.77,310.51 L30.53,312.92 L31.35,315.3 L32.24,317.66 L33.21,319.99 L34.25,322.29 L35.35,324.56 L36.52,326.79 L37.76,328.99 L39.07,331.16 L40.44,333.29 L41.88,335.38 L43.37,337.44 L44.93,339.45 L46.55,341.42 L48.23,343.35 L49.97,345.23 L51.76,347.07 L53.61,348.86 L55.51,350.6 L57.46,352.3 L59.47,353.95 L61.52,355.54 L63.63,357.09 L65.78,358.58 L67.97,360.02 L70.21,361.41 L72.49,362.74 L74.82,364.02 L77.18,365.24 L79.58,366.4 L82.01,367.51 L84.48,368.56 L86.98,369.55 L89.51,370.49 L92.07,371.36 L94.66,372.17 L97.28,372.93 L99.92,373.62 L102.58,374.25 L105.27,374.83 L107.97,375.34 L110.69,375.79 L113.43,376.18 L116.18,376.5 L118.95,376.76 L121.72,376.97 L124.5,377.11 L127.3,377.18 L130.09,377.2 L132.89,377.15 L135.7,377.04 L138.5,376.87" fill="none" stroke="#c6c6c6" stroke-width="0.8" />
<path d="M138.5,182.33 L136.34,183.31 L134.17,184.37 L132.01,185.5 L129.84,186.7 L127.67,187.98 L125.51,189.32 L123.35,190.74 L121.2,192.22 L119.05,193.78 L116.92,195.4 L114.8,197.09 L112.68,198.84 L110.59,200.66 L108.51,202.54 L106.45,204.48 L104.41,206.48 L102.39,208.54 L100.4,210.66 L98.43,212.83 L96.48,215.05 L94.57,217.33 L92.68,219.66 L90.83,222.04 L89,224.46 L87.22,226.93 L85.47,229.44 L83.75,232 L82.08,234.59 L80.44,237.22 L78.85,239.88 L77.3,242.58 L75.79,245.3 L74.33,248.06 L72.92,250.84 L71.55,253.64 L70.24,256.46 L68.97,259.31 L67.75,262.17 L66.59,265.04 L65.48,267.93 L64.42,270.83 L63.42,273.73 L62.47,276.64 L61.58,279.55 L60.75,282.46 L59.97,285.37 L59.25,288.28 L58.59,291.18 L57.98,294.06 L57.44,296.94 L56.96,299.8 L56.53,302.65 L56.17,305.48 L55.86,308.29 L55.62,311.08 L55.43,313.84 L55.31,316.57 L55.25,319.28 L55.24,321.95 L55.3,324.59 L55.41,327.2 L55.59,329.76 L55.82,332.29 L56.12,334.78 L56.47,337.23 L56.88,339.63 L57.34,341.99 L57.86,344.29 L58.44,346.55 L59.08,348.76 L59.76,350.92 L60.51,353.02 L61.3,355.07 L62.15,357.06 L63.05,358.99 L64,360.87 L65,362.68 L66.05,364.44 L67.14,366.13 L68.29,367.76 L69.47,369.32 L70.71,370.82 L71.98,372.26 L73.3,373.62 L74.66,374.93 L76.06,376.16 L77.5,377.32 L78.98,378.42 L80.49,379.45 L82.04,380.41 L83.63,381.3 L85.24,382.11 L86.89,382.86 L88.57,383.54 L90.27,384.15 L92.01,384.68 L93.77,385.15 L95.55,385.54 L97.36,385.86 L99.19,386.12 L101.05,386.3 L102.92,386.41 L104.81,386.45 L106.72,386.42 L108.64,386.33 L110.58,386.16 L112.53,385.92 L114.49,385.62 L116.47,385.25 L118.45,384.81 L120.44,384.31 L122.44,383.74 L124.44,383.1 L126.45,382.4 L128.46,381.63 L130.47,380.81 L132.48,379.91 L134.49,378.96 L136.5,377.95 L138.5,376.87" fill="none" stroke="#c6c6c6" stroke-width="0.8" />
<path d="M138.5,182.33 L138.1,183.7 L137.69,185.14 L137.29,186.66 L136.88,188.25 L136.47,189.91 L136.07,191.65 L135.66,193.46 L135.26,195.34 L134.85,197.29 L134.45,199.3 L134.05,201.39 L133.65,203.54 L133.26,205.75 L132.86,208.03 L132.47,210.36 L132.09,212.76 L131.7,215.21 L131.32,217.72 L130.95,220.28 L130.58,222.89 L130.21,225.56 L129.85,228.27 L129.5,231.02 L129.15,233.82 L128.81,236.67 L128.48,239.55 L128.15,242.46 L127.83,245.41 L127.51,248.4 L127.21,251.41 L126.91,254.45 L126.62,257.51 L126.34,260.6 L126.07,263.7 L125.81,266.82 L125.55,269.96 L125.31,273.1 L125.07,276.26 L124.85,279.42 L124.63,282.58 L124.43,285.74 L124.23,288.9 L124.05,292.06 L123.88,295.21 L123.72,298.35 L123.57,301.48 L123.43,304.59 L123.3,307.68 L123.18,310.75 L123.08,313.8 L122.98,316.82 L122.9,319.81 L122.83,322.78 L122.77,325.7 L122.72,328.6 L122.69,331.45 L122.66,334.27 L122.65,337.04 L122.65,339.77 L122.66,342.45 L122.68,345.08 L122.72,347.66 L122.76,350.19 L122.82,352.67 L122.89,355.08 L122.97,357.44 L123.06,359.74 L123.16,361.98 L123.27,364.15 L123.39,366.26 L123.53,368.3 L123.67,370.28 L123.82,372.18 L123.99,374.02 L124.16,375.78 L124.35,377.48 L124.54,379.1 L124.74,380.64 L124.95,382.11 L125.17,383.51 L125.4,384.83 L125.64,386.07 L125.89,387.24 L126.14,388.32 L126.4,389.33 L126.67,390.27 L126.95,391.12 L127.23,391.89 L127.52,392.59 L127.82,393.2 L128.12,393.74 L128.43,394.2 L128.75,394.57 L129.07,394.87 L129.4,395.1 L129.73,395.24 L130.06,395.31 L130.4,395.29 L130.75,395.21 L131.1,395.04 L131.45,394.8 L131.8,394.48 L132.16,394.09 L132.52,393.63 L132.89,393.09 L133.25,392.48 L133.62,391.8 L133.99,391.05 L134.37,390.23 L134.74,389.34 L135.11,388.38 L135.49,387.35 L135.87,386.26 L136.24,385.11 L136.62,383.89 L137,382.61 L137.37,381.26 L137.75,379.86 L138.13,378.39 L138.5,376.87" fill="none" stroke="#c6c6c6" stroke-width="0.8" />
<path d="M138.5,182.33 L140.02,183.53 L141.55,184.8 L143.07,186.15 L144.6,187.57 L146.13,189.07 L147.66,190.63 L149.18,192.27 L150.71,193.98 L152.22,195.75 L153.73,197.6 L155.24,199.51 L156.73,201.48 L158.22,203.52 L159.69,205.62 L161.15,207.79 L162.6,210.01 L164.04,212.29 L165.46,214.62 L166.86,217.01 L168.24,219.46 L169.6,221.95 L170.95,224.49 L172.27,227.08 L173.57,229.72 L174.84,232.39 L176.09,235.11 L177.32,237.87 L178.51,240.66 L179.68,243.49 L180.82,246.34 L181.93,249.23 L183.01,252.15 L184.05,255.08 L185.06,258.04 L186.04,261.02 L186.99,264.02 L187.89,267.03 L188.77,270.06 L189.6,273.09 L190.4,276.13 L191.16,279.18 L191.88,282.22 L192.56,285.27 L193.2,288.32 L193.8,291.35 L194.36,294.38 L194.87,297.4 L195.35,300.41 L195.78,303.4 L196.17,306.37 L196.52,309.32 L196.83,312.25 L197.09,315.15 L197.31,318.03 L197.49,320.88 L197.62,323.69 L197.71,326.47 L197.75,329.21 L197.76,331.92 L197.72,334.58 L197.63,337.2 L197.51,339.78 L197.34,342.3 L197.13,344.79 L196.87,347.22 L196.58,349.59 L196.25,351.92 L195.87,354.19 L195.45,356.4 L195,358.55 L194.5,360.64 L193.97,362.68 L193.4,364.65 L192.79,366.55 L192.14,368.39 L191.46,370.16 L190.74,371.87 L189.99,373.51 L189.21,375.08 L188.39,376.58 L187.53,378.01 L186.65,379.36 L185.73,380.65 L184.79,381.86 L183.82,383 L182.81,384.07 L181.78,385.06 L180.73,385.97 L179.64,386.82 L178.54,387.58 L177.41,388.28 L176.25,388.89 L175.08,389.43 L173.88,389.9 L172.66,390.29 L171.43,390.61 L170.17,390.85 L168.9,391.02 L167.61,391.11 L166.31,391.13 L164.99,391.08 L163.66,390.95 L162.32,390.75 L160.97,390.48 L159.6,390.13 L158.23,389.72 L156.84,389.23 L155.45,388.68 L154.05,388.05 L152.65,387.36 L151.24,386.6 L149.83,385.77 L148.41,384.88 L147,383.92 L145.58,382.9 L144.16,381.82 L142.74,380.67 L141.33,379.47 L139.91,378.2 L138.5,376.87" fill="none" stroke="#c6c6c6" stroke-width="0.8" />
<path d="M78.9,188.22 L77.96,188.91 L77.06,189.62 L76.2,190.34 L75.38,191.07 L74.6,191.81 L73.86,192.56 L73.17,193.32 L72.51,194.08 L71.91,194.86 L71.34,195.64 L70.82,196.43 L70.34,197.23 L69.91,198.03 L69.53,198.84 L69.19,199.65 L68.9,200.47 L68.65,201.29 L68.45,202.12 L68.3,202.95 L68.2,203.78 L68.15,204.61 L68.14,205.44 L68.18,206.28 L68.27,207.11 L68.41,207.95 L68.6,208.78 L68.83,209.61 L69.12,210.44 L69.45,211.27 L69.84,212.09 L70.27,212.91 L70.74,213.72 L71.27,214.53 L71.85,215.34 L72.47,216.13 L73.14,216.92 L73.85,217.71 L74.62,218.48 L75.43,219.25 L76.28,220 L77.18,220.75 L78.13,221.49 L79.12,222.21 L80.15,222.93 L81.22,223.63 L82.34,224.32 L83.5,224.99 L84.7,225.65 L85.94,226.3 L87.22,226.93 L88.53,227.55 L89.89,228.15 L91.28,228.74 L92.7,229.3 L94.17,229.86 L95.66,230.39 L97.19,230.9 L98.74,231.4 L100.33,231.88 L101.95,232.34 L103.59,232.78 L105.26,233.19 L106.96,233.59 L108.68,233.97 L110.42,234.32 L112.19,234.66 L113.97,234.97 L115.78,235.26 L117.6,235.53 L119.43,235.78 L121.29,236 L123.15,236.2 L125.03,236.38 L126.92,236.53 L128.81,236.67 L130.72,236.77 L132.63,236.86 L134.54,236.92 L136.46,236.96 L138.38,236.97 L140.3,236.96 L142.21,236.92 L144.13,236.87 L146.04,236.79 L147.94,236.68 L149.84,236.55 L151.73,236.4 L153.61,236.23 L155.47,236.03 L157.33,235.81 L159.17,235.57 L160.99,235.3 L162.8,235.01 L164.58,234.7 L166.35,234.37 L168.1,234.02 L169.82,233.64 L171.52,233.25 L173.19,232.83 L174.84,232.39 L176.46,231.94 L178.05,231.46 L179.62,230.97 L181.15,230.46 L182.64,229.93 L184.11,229.38 L185.54,228.81 L186.93,228.23 L188.29,227.63 L189.62,227.01 L190.9,226.38 L192.14,225.74 L193.35,225.08 L194.51,224.4 L195.63,223.72 L196.72,223.02 L197.75,222.3 L198.75,221.58 L199.7,220.85 L200.6,220.1 L201.47,219.35 L202.28,218.58 L203.05,217.81 L203.77,217.03 L204.45,216.24 L205.08,215.44 L205.66,214.64 L206.19,213.83 L206.67,213.01 L207.11,212.2 L207.5,211.37 L207.84,210.55 L208.13,209.72 L208.37,208.89 L208.57,208.05 L208.71,207.22 L208.81,206.39 L208.86,205.55 L208.86,204.72 L208.81,203.88 L208.71,203.05 L208.57,202.22 L208.38,201.4 L208.14,200.58 L207.85,199.76 L207.52,198.94 L207.14,198.13 L206.71,197.33 L206.24,196.53 L205.73,195.74 L205.17,194.96 L204.57,194.18 L203.92,193.41 L203.23,192.66 L202.5,191.9 L201.72,191.16 L200.91,190.43 L200.05,189.71 L199.16,189 L198.22,188.3 L197.25,187.62 L196.24,186.94 L195.19,186.28 L194.11,185.63 L192.99,185 L191.84,184.37 L190.65,183.77 L189.43,183.17 L188.18,182.59 L186.89,182.03 L185.58,181.48 L184.24,180.95 L182.87,180.43 L181.47,179.93 L180.04,179.44 L178.59,178.98 L177.11,178.53 L175.61,178.09 L174.09,177.68 L172.55,177.28 L170.98,176.9 L169.39,176.54 L167.79,176.19 L166.17,175.87 L164.53,175.56 L162.87,175.27 L161.2,175.01 L159.52,174.76 L157.82,174.53 L156.11,174.32 L154.39,174.13 L152.66,173.96 L150.93,173.8 L149.18,173.67 L147.43,173.56 L145.67,173.47 L143.91,173.4 L142.15,173.35 L140.38,173.32 L138.61,173.3 L136.85,173.31 L135.08,173.34 L133.31,173.39 L131.55,173.46 L129.8,173.55 L128.04,173.66 L126.3,173.79 L124.56,173.94 L122.83,174.1 L121.11,174.29 L119.4,174.5 L117.7,174.73 L116.01,174.97 L114.34,175.24 L112.69,175.52 L111.04,175.83 L109.42,176.15 L107.81,176.49 L106.22,176.85 L104.66,177.23 L103.11,177.62 L101.58,178.04 L100.08,178.47 L98.6,178.92 L97.14,179.38 L95.72,179.87 L94.31,180.36 L92.94,180.88 L91.59,181.41 L90.27,181.96 L88.99,182.52 L87.73,183.1 L86.51,183.69 L85.32,184.29 L84.16,184.92 L83.03,185.55 L81.95,186.2 L80.89,186.86 L79.88,187.53 L78.9,188.22" fill="none" stroke="#c6c6c6" stroke-width="0.8" />
<path d="M46.88,232.19 L45.39,233.33 L43.96,234.48 L42.58,235.65 L41.27,236.85 L40.02,238.05 L38.83,239.28 L37.7,240.52 L36.64,241.78 L35.64,243.05 L34.71,244.33 L33.85,245.63 L33.05,246.95 L32.32,248.27 L31.67,249.6 L31.08,250.95 L30.56,252.3 L30.12,253.66 L29.75,255.03 L29.45,256.4 L29.22,257.79 L29.07,259.17 L29,260.56 L29,261.95 L29.07,263.35 L29.23,264.74 L29.45,266.14 L29.76,267.53 L30.14,268.92 L30.59,270.31 L31.13,271.69 L31.74,273.07 L32.42,274.45 L33.19,275.81 L34.03,277.17 L34.94,278.52 L35.93,279.86 L37,281.18 L38.14,282.5 L39.36,283.8 L40.65,285.09 L42.01,286.36 L43.45,287.61 L44.96,288.85 L46.53,290.07 L48.18,291.27 L49.9,292.45 L51.69,293.61 L53.54,294.74 L55.46,295.85 L57.44,296.94 L59.49,298 L61.59,299.04 L63.76,300.05 L65.99,301.03 L68.27,301.98 L70.61,302.9 L73.01,303.79 L75.45,304.65 L77.95,305.48 L80.49,306.27 L83.09,307.03 L85.72,307.76 L88.4,308.45 L91.12,309.1 L93.88,309.72 L96.67,310.3 L99.5,310.85 L102.36,311.35 L105.25,311.82 L108.17,312.25 L111.11,312.64 L114.07,312.99 L117.06,313.3 L120.06,313.57 L123.08,313.8 L126.11,313.99 L129.15,314.13 L132.19,314.24 L135.25,314.3 L138.3,314.33 L141.36,314.31 L144.41,314.25 L147.46,314.15 L150.5,314.01 L153.53,313.82 L156.55,313.6 L159.56,313.34 L162.54,313.03 L165.51,312.69 L168.45,312.3 L171.38,311.88 L174.27,311.42 L177.13,310.91 L179.97,310.37 L182.76,309.8 L185.53,309.18 L188.25,308.53 L190.94,307.85 L193.58,307.13 L196.17,306.37 L198.73,305.58 L201.23,304.76 L203.68,303.9 L206.08,303.02 L208.43,302.1 L210.72,301.15 L212.95,300.17 L215.13,299.17 L217.25,298.14 L219.3,297.08 L221.29,296 L223.22,294.89 L225.08,293.75 L226.87,292.6 L228.6,291.42 L230.26,290.23 L231.84,289.01 L233.36,287.77 L234.81,286.52 L236.18,285.25 L237.48,283.97 L238.7,282.67 L239.86,281.35 L240.93,280.03 L241.93,278.69 L242.86,277.34 L243.71,275.99 L244.48,274.62 L245.18,273.25 L245.8,271.87 L246.34,270.49 L246.81,269.1 L247.2,267.71 L247.51,266.31 L247.75,264.92 L247.91,263.53 L248,262.13 L248.01,260.74 L247.94,259.35 L247.8,257.96 L247.58,256.58 L247.3,255.21 L246.93,253.84 L246.5,252.47 L245.99,251.12 L245.41,249.77 L244.77,248.44 L244.05,247.12 L243.26,245.8 L242.41,244.5 L241.48,243.21 L240.49,241.94 L239.44,240.68 L238.32,239.44 L237.14,238.21 L235.9,237 L234.59,235.81 L233.22,234.63 L231.8,233.48 L230.32,232.34 L228.78,231.22 L227.18,230.13 L225.53,229.05 L223.83,228 L222.08,226.97 L220.27,225.96 L218.42,224.98 L216.51,224.02 L214.57,223.09 L212.57,222.18 L210.53,221.29 L208.45,220.43 L206.33,219.6 L204.17,218.79 L201.97,218.02 L199.73,217.27 L197.46,216.54 L195.15,215.85 L192.81,215.18 L190.44,214.54 L188.03,213.93 L185.6,213.36 L183.15,212.81 L180.66,212.29 L178.16,211.8 L175.63,211.34 L173.08,210.91 L170.51,210.51 L167.92,210.15 L165.31,209.81 L162.69,209.51 L160.06,209.23 L157.41,208.99 L154.75,208.78 L152.09,208.61 L149.41,208.46 L146.73,208.35 L144.05,208.26 L141.36,208.21 L138.67,208.2 L135.98,208.21 L133.3,208.26 L130.61,208.33 L127.93,208.44 L125.26,208.59 L122.59,208.76 L119.93,208.96 L117.28,209.2 L114.65,209.47 L112.03,209.77 L109.42,210.1 L106.83,210.46 L104.25,210.86 L101.7,211.28 L99.17,211.74 L96.66,212.22 L94.17,212.74 L91.71,213.28 L89.28,213.86 L86.87,214.46 L84.5,215.1 L82.15,215.76 L79.84,216.45 L77.56,217.17 L75.32,217.92 L73.11,218.69 L70.95,219.49 L68.82,220.32 L66.73,221.18 L64.69,222.06 L62.69,222.97 L60.73,223.9 L58.83,224.86 L56.97,225.84 L55.15,226.84 L53.39,227.87 L51.68,228.92 L50.03,229.99 L48.43,231.08 L46.88,232.19" fill="none" stroke="#c6c6c6" stroke-width="0.8" />
<path d="M52.78,294.08 L51.39,295.22 L50.06,296.38 L48.78,297.56 L47.56,298.76 L46.4,299.98 L45.3,301.21 L44.25,302.46 L43.27,303.73 L42.34,305.01 L41.48,306.3 L40.69,307.61 L39.95,308.93 L39.28,310.26 L38.68,311.6 L38.14,312.95 L37.67,314.31 L37.27,315.67 L36.93,317.05 L36.67,318.43 L36.47,319.82 L36.34,321.21 L36.28,322.6 L36.29,324 L36.37,325.39 L36.52,326.79 L36.75,328.19 L37.04,329.59 L37.41,330.98 L37.85,332.37 L38.35,333.76 L38.93,335.14 L39.59,336.52 L40.31,337.88 L41.1,339.24 L41.97,340.59 L42.9,341.93 L43.9,343.26 L44.98,344.57 L46.12,345.87 L47.33,347.16 L48.61,348.43 L49.96,349.68 L51.37,350.92 L52.85,352.14 L54.39,353.33 L56,354.51 L57.67,355.67 L59.4,356.8 L61.2,357.91 L63.05,358.99 L64.96,360.05 L66.93,361.08 L68.95,362.09 L71.03,363.07 L73.16,364.01 L75.34,364.93 L77.57,365.82 L79.85,366.68 L82.18,367.5 L84.55,368.29 L86.96,369.05 L89.42,369.77 L91.91,370.46 L94.44,371.11 L97.01,371.73 L99.61,372.31 L102.24,372.85 L104.9,373.35 L107.59,373.82 L110.3,374.24 L113.04,374.63 L115.79,374.98 L118.57,375.29 L121.36,375.56 L124.16,375.78 L126.98,375.97 L129.81,376.12 L132.64,376.22 L135.48,376.29 L138.32,376.31 L141.16,376.29 L144,376.23 L146.83,376.13 L149.66,375.99 L152.47,375.81 L155.28,375.59 L158.07,375.32 L160.85,375.02 L163.61,374.68 L166.35,374.3 L169.06,373.87 L171.76,373.41 L174.42,372.91 L177.05,372.38 L179.66,371.8 L182.23,371.19 L184.77,370.54 L187.26,369.86 L189.72,369.14 L192.14,368.39 L194.52,367.6 L196.85,366.78 L199.14,365.93 L201.38,365.05 L203.56,364.13 L205.7,363.19 L207.78,362.22 L209.82,361.22 L211.79,360.19 L213.71,359.13 L215.57,358.05 L217.37,356.94 L219.11,355.81 L220.79,354.66 L222.4,353.49 L223.95,352.29 L225.44,351.08 L226.86,349.84 L228.22,348.59 L229.51,347.32 L230.73,346.04 L231.88,344.74 L232.96,343.43 L233.97,342.1 L234.92,340.76 L235.79,339.42 L236.59,338.06 L237.33,336.69 L237.99,335.32 L238.57,333.94 L239.09,332.55 L239.54,331.16 L239.91,329.77 L240.22,328.37 L240.45,326.97 L240.61,325.57 L240.7,324.18 L240.72,322.78 L240.67,321.39 L240.55,319.99 L240.36,318.61 L240.11,317.23 L239.78,315.85 L239.38,314.48 L238.92,313.12 L238.39,311.77 L237.8,310.43 L237.14,309.1 L236.41,307.78 L235.62,306.47 L234.77,305.17 L233.86,303.89 L232.88,302.63 L231.84,301.37 L230.75,300.14 L229.59,298.92 L228.38,297.72 L227.11,296.53 L225.79,295.37 L224.41,294.22 L222.97,293.1 L221.49,291.99 L219.95,290.91 L218.37,289.85 L216.73,288.81 L215.05,287.8 L213.32,286.8 L211.54,285.84 L209.72,284.89 L207.86,283.97 L205.96,283.08 L204.01,282.21 L202.03,281.37 L200.01,280.56 L197.95,279.77 L195.86,279.01 L193.73,278.28 L191.57,277.58 L189.38,276.91 L187.16,276.26 L184.91,275.65 L182.64,275.06 L180.34,274.51 L178.01,273.98 L175.66,273.49 L173.3,273.02 L170.91,272.59 L168.5,272.19 L166.07,271.82 L163.63,271.48 L161.18,271.17 L158.71,270.9 L156.23,270.65 L153.74,270.44 L151.24,270.26 L148.73,270.11 L146.22,270 L143.7,269.91 L141.18,269.86 L138.66,269.85 L136.14,269.86 L133.62,269.91 L131.1,269.99 L128.59,270.1 L126.09,270.24 L123.59,270.42 L121.09,270.62 L118.61,270.86 L116.14,271.13 L113.68,271.44 L111.24,271.77 L108.81,272.14 L106.4,272.54 L104.01,272.97 L101.64,273.43 L99.29,273.92 L96.96,274.44 L94.66,274.99 L92.38,275.57 L90.13,276.18 L87.9,276.82 L85.71,277.49 L83.55,278.19 L81.42,278.92 L79.32,279.67 L77.26,280.46 L75.23,281.27 L73.24,282.1 L71.29,282.97 L69.38,283.86 L67.52,284.77 L65.69,285.71 L63.91,286.68 L62.17,287.67 L60.48,288.68 L58.84,289.72 L57.25,290.77 L55.71,291.85 L54.22,292.96 L52.78,294.08" fill="none" stroke="#c6c6c6" stroke-width="0.8" />
<path d="M92.3,350.11 L91.58,350.76 L90.89,351.43 L90.23,352.1 L89.61,352.79 L89.01,353.48 L88.45,354.19 L87.93,354.9 L87.43,355.62 L86.97,356.34 L86.55,357.08 L86.16,357.82 L85.8,358.56 L85.48,359.31 L85.2,360.07 L84.95,360.83 L84.73,361.59 L84.56,362.36 L84.42,363.13 L84.32,363.9 L84.25,364.68 L84.22,365.45 L84.23,366.23 L84.28,367.01 L84.36,367.78 L84.48,368.56 L84.64,369.33 L84.83,370.11 L85.06,370.88 L85.33,371.64 L85.64,372.41 L85.99,373.17 L86.37,373.92 L86.78,374.67 L87.24,375.42 L87.73,376.15 L88.26,376.89 L88.82,377.61 L89.41,378.33 L90.05,379.03 L90.71,379.73 L91.42,380.42 L92.15,381.1 L92.92,381.77 L93.72,382.43 L94.56,383.07 L95.42,383.71 L96.32,384.33 L97.25,384.94 L98.21,385.53 L99.19,386.12 L100.21,386.68 L101.25,387.24 L102.33,387.77 L103.42,388.3 L104.55,388.8 L105.7,389.29 L106.87,389.76 L108.07,390.22 L109.29,390.66 L110.53,391.08 L111.79,391.48 L113.07,391.86 L114.37,392.23 L115.69,392.57 L117.03,392.9 L118.38,393.2 L119.74,393.49 L121.12,393.76 L122.52,394 L123.92,394.23 L125.34,394.43 L126.77,394.62 L128.2,394.78 L129.65,394.92 L131.1,395.04 L132.55,395.14 L134.01,395.22 L135.47,395.27 L136.94,395.31 L138.41,395.32 L139.87,395.31 L141.34,395.28 L142.8,395.22 L144.26,395.15 L145.72,395.05 L147.17,394.94 L148.61,394.8 L150.05,394.64 L151.48,394.46 L152.89,394.26 L154.3,394.03 L155.7,393.79 L157.08,393.53 L158.45,393.24 L159.8,392.94 L161.14,392.62 L162.46,392.27 L163.76,391.91 L165.05,391.53 L166.31,391.13 L167.55,390.71 L168.78,390.28 L169.98,389.82 L171.15,389.35 L172.31,388.87 L173.43,388.36 L174.53,387.84 L175.61,387.31 L176.66,386.76 L177.68,386.19 L178.67,385.61 L179.63,385.02 L180.56,384.41 L181.46,383.79 L182.33,383.16 L183.17,382.51 L183.98,381.85 L184.75,381.19 L185.49,380.51 L186.2,379.82 L186.87,379.12 L187.51,378.42 L188.11,377.7 L188.67,376.98 L189.21,376.25 L189.7,375.51 L190.16,374.77 L190.58,374.02 L190.97,373.27 L191.32,372.51 L191.63,371.74 L191.9,370.98 L192.14,370.21 L192.34,369.43 L192.5,368.66 L192.63,367.88 L192.72,367.11 L192.77,366.33 L192.78,365.55 L192.76,364.78 L192.69,364 L192.6,363.23 L192.46,362.46 L192.29,361.69 L192.08,360.93 L191.84,360.17 L191.56,359.41 L191.24,358.66 L190.89,357.91 L190.5,357.17 L190.08,356.44 L189.63,355.71 L189.14,354.99 L188.62,354.28 L188.06,353.57 L187.47,352.88 L186.85,352.19 L186.2,351.51 L185.51,350.85 L184.8,350.19 L184.05,349.54 L183.28,348.91 L182.48,348.29 L181.64,347.67 L180.78,347.07 L179.9,346.49 L178.98,345.91 L178.04,345.35 L177.08,344.81 L176.09,344.28 L175.07,343.76 L174.04,343.25 L172.97,342.76 L171.89,342.29 L170.79,341.83 L169.67,341.39 L168.52,340.96 L167.36,340.55 L166.18,340.16 L164.98,339.78 L163.76,339.42 L162.53,339.08 L161.29,338.76 L160.03,338.45 L158.75,338.16 L157.47,337.89 L156.17,337.63 L154.86,337.39 L153.54,337.18 L152.21,336.98 L150.87,336.8 L149.53,336.63 L148.18,336.49 L146.82,336.37 L145.45,336.26 L144.09,336.17 L142.71,336.11 L141.34,336.06 L139.97,336.03 L138.59,336.02 L137.21,336.02 L135.84,336.05 L134.46,336.1 L133.09,336.16 L131.72,336.25 L130.36,336.35 L129,336.47 L127.65,336.61 L126.3,336.77 L124.96,336.95 L123.63,337.15 L122.31,337.37 L121,337.6 L119.7,337.85 L118.41,338.12 L117.14,338.41 L115.87,338.72 L114.63,339.04 L113.39,339.38 L112.18,339.74 L110.98,340.11 L109.79,340.5 L108.63,340.91 L107.48,341.33 L106.35,341.77 L105.25,342.23 L104.16,342.7 L103.1,343.19 L102.06,343.69 L101.04,344.21 L100.05,344.74 L99.08,345.28 L98.14,345.84 L97.22,346.41 L96.33,347 L95.47,347.6 L94.63,348.21 L93.82,348.83 L93.04,349.46 L92.3,350.11" fill="none" stroke="#c6c6c6" stroke-width="0.8" />
<line x1="44.64" y1="256.15" x2="238.72" y2="312.21" stroke="#767676" stroke-width="0.8"/>
<line x1="78.94" y1="334.47" x2="191.67" y2="237.54" stroke="#767676" stroke-width="0.8"/>
<line x1="138.5" y1="376.87" x2="138.5" y2="182.33" stroke="#767676" stroke-width="0.8"/>
<path d="M78.94,334.47 L79.03,337.09 L79.15,339.67 L79.32,342.2 L79.54,344.68 L79.79,347.11 L80.09,349.49 L80.42,351.81 L80.8,354.08 L81.22,356.29 L81.68,358.45 L82.17,360.54 L82.71,362.57 L83.29,364.54 L83.9,366.45 L84.55,368.29 L85.23,370.07 L85.96,371.77 L86.71,373.41 L87.5,374.98 L88.33,376.49 L89.18,377.92 L90.07,379.27 L90.99,380.56 L91.94,381.77 L92.92,382.92 L93.93,383.98 L94.97,384.98 L96.03,385.89 L97.12,386.74 L98.23,387.51 L99.37,388.2 L100.53,388.82 L101.71,389.36 L102.91,389.83 L104.14,390.23 L105.38,390.55 L106.64,390.79 L107.92,390.96 L109.22,391.06 L110.53,391.08 L111.85,391.03 L113.19,390.9 L114.54,390.7 L115.9,390.43 L117.28,390.09 L118.66,389.68 L120.05,389.2 L121.45,388.64 L122.86,388.02 L124.27,387.33 L125.68,386.58 L127.1,385.75 L128.53,384.86 L129.95,383.91 L131.38,382.89 L132.81,381.81 L134.23,380.67 L135.66,379.46 L137.08,378.2 L138.5,376.87 L139.92,375.49 L141.33,374.05 L142.73,372.56 L144.13,371.01 L145.52,369.41 L146.9,367.75 L148.28,366.05 L149.64,364.29 L150.99,362.49 L152.34,360.64 L153.67,358.74 L154.98,356.79 L156.29,354.81 L157.58,352.78 L158.85,350.71 L160.11,348.6 L161.35,346.45 L162.58,344.26 L163.79,342.04 L164.98,339.78 L166.15,337.49 L167.3,335.17 L168.44,332.82 L169.55,330.44 L170.64,328.03 L171.7,325.6 L172.75,323.14 L173.77,320.66 L174.77,318.15 L175.75,315.63 L176.7,313.08 L177.62,310.52 L178.52,307.94 L179.4,305.35 L180.24,302.74 L181.06,300.12 L181.86,297.49 L182.62,294.86 L183.36,292.21 L184.07,289.56 L184.74,286.9 L185.39,284.25 L186.01,281.58 L186.6,278.92 L187.16,276.26 L187.69,273.61 L188.19,270.95 L188.65,268.31 L189.08,265.67 L189.49,263.04 L189.85,260.42 L190.19,257.81 L190.49,255.21 L190.76,252.63 L191,250.07 L191.2,247.52 L191.37,244.99 L191.51,242.48 L191.61,240 L191.67,237.54 L191.71,235.1 L191.7,232.69 L191.67,230.31 L191.6,227.96 L191.49,225.63 L191.35,223.35 L191.17,221.09 L190.96,218.87 L190.72,216.69 L190.44,214.54 L190.12,212.44 L189.77,210.37 L189.39,208.35 L188.97,206.37 L188.51,204.44 L188.02,202.56 L187.5,200.72 L186.94,198.93 L186.35,197.19 L185.73,195.51 L185.07,193.87 L184.38,192.29 L183.66,190.77 L182.9,189.31 L182.11,187.9 L181.29,186.55 L180.44,185.26 L179.56,184.04 L178.65,182.88 L177.7,181.78 L176.73,180.74 L175.73,179.78 L174.69,178.88 L173.63,178.04 L172.55,177.28 L171.43,176.58 L170.29,175.96 L169.12,175.41 L167.93,174.93 L166.71,174.52 L165.47,174.19 L164.21,173.93 L162.92,173.74 L161.61,173.63 L160.29,173.6 L158.94,173.64 L157.57,173.76 L156.19,173.95 L154.78,174.23 L153.36,174.58 L151.93,175 L150.48,175.51 L149.02,176.09 L147.55,176.75 L146.06,177.49 L144.56,178.3 L143.06,179.2 L141.55,180.17 L140.03,181.21 L138.5,182.33 L136.97,183.53 L135.44,184.8 L133.9,186.14 L132.36,187.56 L130.82,189.06 L129.29,190.62 L127.75,192.25 L126.22,193.96 L124.7,195.73 L123.18,197.57 L121.67,199.48 L120.16,201.45 L118.67,203.49 L117.18,205.59 L115.71,207.75 L114.26,209.97 L112.81,212.25 L111.39,214.58 L109.98,216.97 L108.59,219.41 L107.22,221.9 L105.86,224.44 L104.54,227.03 L103.23,229.66 L101.95,232.34 L100.69,235.05 L99.46,237.81 L98.26,240.6 L97.08,243.42 L95.94,246.28 L94.82,249.16 L93.74,252.07 L92.69,255.01 L91.67,257.97 L90.68,260.95 L89.73,263.94 L88.82,266.95 L87.94,269.97 L87.1,273.01 L86.3,276.05 L85.54,279.09 L84.82,282.13 L84.13,285.18 L83.49,288.22 L82.88,291.26 L82.32,294.29 L81.8,297.31 L81.32,300.31 L80.89,303.3 L80.49,306.27 L80.14,309.22 L79.84,312.15 L79.57,315.05 L79.35,317.93 L79.18,320.77 L79.04,323.59 L78.95,326.36 L78.91,329.11 L78.9,331.81 L78.94,334.47" fill="none" stroke="#6a6a6a" stroke-width="0.8" />
<path d="M44.64,256.15 L43.11,257.34 L41.64,258.56 L40.23,259.8 L38.88,261.06 L37.6,262.33 L36.37,263.62 L35.22,264.93 L34.12,266.26 L33.1,267.6 L32.14,268.96 L31.25,270.33 L30.43,271.72 L29.68,273.11 L29,274.52 L28.39,275.94 L27.86,277.37 L27.4,278.81 L27.02,280.26 L26.71,281.71 L26.47,283.17 L26.31,284.63 L26.23,286.1 L26.23,287.57 L26.3,289.04 L26.45,290.52 L26.68,291.99 L26.98,293.47 L27.37,294.94 L27.83,296.41 L28.37,297.87 L29,299.33 L29.7,300.78 L30.47,302.23 L31.33,303.66 L32.27,305.09 L33.28,306.5 L34.37,307.91 L35.54,309.3 L36.78,310.68 L38.1,312.04 L39.5,313.39 L40.97,314.71 L42.51,316.02 L44.12,317.31 L45.81,318.58 L47.57,319.83 L49.4,321.06 L51.3,322.26 L53.27,323.44 L55.3,324.59 L57.4,325.71 L59.56,326.81 L61.78,327.88 L64.06,328.92 L66.41,329.93 L68.81,330.9 L71.26,331.85 L73.77,332.76 L76.33,333.63 L78.94,334.47 L81.6,335.28 L84.31,336.05 L87.06,336.78 L89.85,337.47 L92.68,338.13 L95.55,338.75 L98.45,339.32 L101.39,339.86 L104.36,340.36 L107.35,340.81 L110.37,341.22 L113.42,341.6 L116.48,341.92 L119.56,342.21 L122.66,342.45 L125.77,342.65 L128.89,342.81 L132.02,342.92 L135.16,342.99 L138.3,343.01 L141.44,342.99 L144.57,342.93 L147.7,342.82 L150.83,342.67 L153.94,342.48 L157.04,342.24 L160.12,341.96 L163.19,341.64 L166.24,341.27 L169.26,340.87 L172.26,340.42 L175.23,339.93 L178.17,339.4 L181.08,338.82 L183.95,338.21 L186.79,337.56 L189.58,336.87 L192.34,336.14 L195.05,335.38 L197.72,334.58 L200.33,333.74 L202.9,332.87 L205.42,331.96 L207.88,331.02 L210.29,330.05 L212.64,329.05 L214.93,328.01 L217.16,326.95 L219.33,325.86 L221.43,324.74 L223.48,323.59 L225.45,322.41 L227.36,321.22 L229.2,319.99 L230.96,318.75 L232.66,317.48 L234.29,316.19 L235.84,314.88 L237.32,313.56 L238.72,312.21 L240.05,310.85 L241.31,309.48 L242.48,308.09 L243.58,306.69 L244.61,305.27 L245.55,303.85 L246.42,302.41 L247.21,300.97 L247.92,299.52 L248.55,298.06 L249.1,296.59 L249.58,295.13 L249.97,293.66 L250.29,292.18 L250.53,290.71 L250.69,289.23 L250.77,287.76 L250.77,286.29 L250.7,284.82 L250.55,283.36 L250.33,281.9 L250.03,280.44 L249.65,279 L249.2,277.56 L248.68,276.13 L248.08,274.71 L247.41,273.3 L246.67,271.9 L245.86,270.51 L244.98,269.14 L244.03,267.78 L243.01,266.43 L241.93,265.1 L240.78,263.79 L239.56,262.5 L238.29,261.22 L236.94,259.96 L235.54,258.72 L234.08,257.5 L232.56,256.3 L230.98,255.12 L229.34,253.97 L227.65,252.83 L225.9,251.72 L224.1,250.64 L222.25,249.58 L220.35,248.54 L218.4,247.53 L216.4,246.54 L214.36,245.58 L212.27,244.65 L210.13,243.74 L207.96,242.87 L205.74,242.02 L203.49,241.2 L201.19,240.41 L198.87,239.64 L196.5,238.91 L194.1,238.21 L191.67,237.54 L189.21,236.9 L186.72,236.29 L184.21,235.71 L181.67,235.16 L179.1,234.64 L176.51,234.16 L173.9,233.71 L171.26,233.29 L168.61,232.9 L165.95,232.55 L163.26,232.23 L160.57,231.94 L157.86,231.69 L155.14,231.47 L152.41,231.28 L149.67,231.13 L146.93,231.01 L144.18,230.92 L141.43,230.87 L138.68,230.85 L135.92,230.86 L133.17,230.91 L130.42,230.99 L127.68,231.11 L124.94,231.26 L122.21,231.44 L119.49,231.66 L116.78,231.91 L114.08,232.19 L111.4,232.51 L108.73,232.86 L106.08,233.24 L103.44,233.65 L100.83,234.1 L98.23,234.58 L95.66,235.09 L93.12,235.63 L90.6,236.21 L88.11,236.81 L85.64,237.45 L83.21,238.12 L80.81,238.82 L78.44,239.55 L76.1,240.31 L73.81,241.09 L71.55,241.91 L69.33,242.76 L67.15,243.63 L65.01,244.53 L62.91,245.46 L60.86,246.42 L58.86,247.4 L56.9,248.41 L54.99,249.44 L53.13,250.5 L51.33,251.58 L49.57,252.69 L47.88,253.82 L46.23,254.97 L44.64,256.15" fill="none" stroke="#c4464a" stroke-width="1.8" />
<line x1="138.5" y1="283.26" x2="190.67" y2="328.47" stroke="#5b8cb6" stroke-width="2.6"/>
<path d="M196.34,333.38 L187.55,330.54 L192.27,325.1Z" fill="#5b8cb6"/>
<path d="M138.5,263.69 L138.8,263.95 L139.1,264.22 L139.4,264.51 L139.7,264.81 L140,265.13 L140.29,265.46 L140.59,265.8 L140.88,266.15 L141.18,266.52 L141.47,266.9 L141.76,267.29 L142.05,267.69 L142.33,268.11 L142.61,268.53 L142.89,268.97 L143.17,269.41 L143.44,269.87 L143.71,270.33 L143.98,270.81 L144.24,271.29 L144.5,271.79 L144.75,272.29 L145,272.8 L145.25,273.31 L145.49,273.84 L145.72,274.37 L145.95,274.91 L146.18,275.45 L146.4,276 L146.61,276.56 L146.82,277.12 L147.02,277.68 L147.22,278.25 L147.41,278.82 L147.59,279.39 L147.77,279.97 L147.94,280.55 L148.1,281.14 L148.26,281.72 L148.41,282.3 L148.55,282.89 L148.68,283.48 L148.81,284.06 L148.93,284.65 L149.04,285.23 L149.15,285.81 L149.25,286.39 L149.34,286.97 L149.42,287.55 L149.49,288.12 L149.56,288.69 L149.62,289.25 L149.67,289.81 L149.71,290.37 L149.74,290.92 L149.77,291.46 L149.79,292 L149.8,292.53 L149.8,293.05" fill="none" stroke="#1a1a1a" stroke-width="2.0" stroke-dasharray="8.77,2.97"/>
<text transform="translate(147.62,262.03) scale(0.1516,0.1265)" font-family="Liberation Serif" font-size="100" font-style="italic" font-weight="bold" fill="#000">ϑ</text>
<text transform="translate(130.81,307.66) scale(0.2157,0.1402)" font-family="Liberation Serif" font-size="100" font-style="italic" font-weight="normal" fill="#000">φ</text>
<line x1="130" y1="156" x2="130" y2="170.5" stroke="#1a1a1a" stroke-width="0.8"/>
<text transform="translate(133.84,166.45) scale(0.1583,0.1436)" font-family="Liberation Serif" font-size="100" font-style="italic" font-weight="normal" fill="#111">E</text>
<path d="M145.5,156.2 L148.4,163.25 L145.5,170.3" fill="none" stroke="#1a1a1a" stroke-width="0.75" stroke-linejoin="miter"/>
<line x1="130" y1="395.8" x2="130" y2="411.3" stroke="#1a1a1a" stroke-width="0.8"/>
<text transform="translate(133.63,407.15) scale(0.1556,0.1497)" font-family="Liberation Serif" font-size="100" font-style="italic" font-weight="normal" fill="#111">L</text>
<path d="M143.6,396.4 L146.3,403.75 L143.6,411.1" fill="none" stroke="#1a1a1a" stroke-width="0.75" stroke-linejoin="miter"/>
<line x1="54.5" y1="340.2" x2="54.5" y2="354.5" stroke="#1a1a1a" stroke-width="0.8"/>
<text transform="translate(56.65,350.25) scale(0.1382,0.1313)" font-family="Liberation Serif" font-size="100" font-style="italic" font-weight="normal" fill="#111">T</text>
<text transform="translate(68.07,350.92) scale(0.1090,0.1423)" font-family="Liberation Serif" font-size="100" font-style="normal" font-weight="normal" fill="#111">(</text>
<text transform="translate(72.44,350.33) scale(0.1085,0.1245)" font-family="Liberation Serif" font-size="100" font-style="normal" font-weight="normal" fill="#111">0</text>
<text transform="translate(79.30,350.92) scale(0.1090,0.1423)" font-family="Liberation Serif" font-size="100" font-style="normal" font-weight="normal" fill="#111">)</text>
<path d="M85.1,340.4 L87.8,347.35 L85.1,354.3" fill="none" stroke="#1a1a1a" stroke-width="0.75" stroke-linejoin="miter"/>
<line x1="245.5" y1="317.5" x2="245.5" y2="333.1" stroke="#1a1a1a" stroke-width="0.8"/>
<text transform="translate(246.81,328.45) scale(0.1291,0.1329)" font-family="Liberation Serif" font-size="100" font-style="italic" font-weight="normal" fill="#111">T</text>
<text transform="translate(257.92,328.78) scale(0.0740,0.1489)" font-family="Liberation Serif" font-size="100" font-style="normal" font-weight="normal" fill="#111">(</text>
<text transform="translate(262.02,323.28) scale(0.0521,0.0704)" font-family="Liberation Serif" font-size="100" font-style="italic" font-weight="normal" fill="#111">π</text>
<line x1="261.5" y1="325.2" x2="266.3" y2="325.2" stroke="#222" stroke-width="0.55"/>
<text transform="translate(262.04,331.75) scale(0.0698,0.0740)" font-family="Liberation Serif" font-size="100" font-style="normal" font-weight="normal" fill="#111">2</text>
<text transform="translate(267.09,328.78) scale(0.0818,0.1489)" font-family="Liberation Serif" font-size="100" font-style="normal" font-weight="normal" fill="#111">)</text>
<path d="M273.2,317.7 L276.3,325.3 L273.2,332.9" fill="none" stroke="#1a1a1a" stroke-width="0.75" stroke-linejoin="miter"/>
<text transform="translate(328.87,15.82) scale(0.1689,0.1353)" font-family="Liberation Serif" font-size="100" font-style="normal" font-weight="bold" fill="#000">c</text>
<defs><linearGradient id="cbg" x1="0" x2="1" y1="0" y2="0"><stop offset="0" stop-color="#023858"/><stop offset="0.05" stop-color="#03456c"/><stop offset="0.1" stop-color="#045382"/><stop offset="0.15" stop-color="#045e94"/><stop offset="0.2" stop-color="#0567a2"/><stop offset="0.25" stop-color="#0570b0"/><stop offset="0.3" stop-color="#187cb6"/><stop offset="0.35" stop-color="#2c89bd"/><stop offset="0.4" stop-color="#4295c3"/><stop offset="0.45" stop-color="#5c9fc9"/><stop offset="0.5" stop-color="#75a9cf"/><stop offset="0.55" stop-color="#88b1d4"/><stop offset="0.6" stop-color="#9cb9d9"/><stop offset="0.65" stop-color="#afc1dd"/><stop offset="0.7" stop-color="#c0c9e2"/><stop offset="0.75" stop-color="#d1d2e6"/><stop offset="0.8" stop-color="#dbdaeb"/><stop offset="0.85" stop-color="#e7e3f0"/><stop offset="0.9" stop-color="#f0eaf4"/><stop offset="0.95" stop-color="#f8f1f8"/><stop offset="1" stop-color="#fff7fb"/></linearGradient></defs>
<rect x="357.2" y="37.8" width="261.2" height="10.6" fill="url(#cbg)" stroke="#111" stroke-width="0.9"/>
<line x1="383.9" y1="37.8" x2="383.9" y2="34" stroke="#111" stroke-width="0.9"/>
<text transform="translate(373.70,26.39) scale(0.1172,0.1163)" font-family="Liberation Serif" font-size="100" font-style="normal" font-weight="normal" fill="#1a1a1a">0.25</text>
<line x1="462.2" y1="37.8" x2="462.2" y2="34" stroke="#111" stroke-width="0.9"/>
<text transform="translate(452.21,26.18) scale(0.1147,0.1207)" font-family="Liberation Serif" font-size="100" font-style="normal" font-weight="normal" fill="#1a1a1a">0.50</text>
<line x1="540.5" y1="37.8" x2="540.5" y2="34" stroke="#111" stroke-width="0.9"/>
<text transform="translate(530.62,26.19) scale(0.1130,0.1163)" font-family="Liberation Serif" font-size="100" font-style="normal" font-weight="normal" fill="#1a1a1a">0.75</text>
<line x1="618.8" y1="37.8" x2="618.8" y2="34" stroke="#111" stroke-width="0.9"/>
<text transform="translate(608.75,26.19) scale(0.1133,0.1163)" font-family="Liberation Serif" font-size="100" font-style="normal" font-weight="normal" fill="#1a1a1a">1.00</text>
<text x="414.44" y="10.01" font-family="Liberation Serif" font-size="14.18" font-style="normal" font-weight="normal" fill="#1a1a1a">Normalised interference</text>
<svg x="357.2" y="129.4" width="261.1" height="261.5" viewBox="357.2 129.4 261.1 261.5" overflow="hidden">
<rect x="357.22" y="388.29" width="3.36" height="3.39" fill="#0567a2"/>
<rect x="359.98" y="388.29" width="4.66" height="3.39" fill="#056caa"/>
<rect x="364.04" y="388.29" width="5.95" height="3.39" fill="#0567a2"/>
<rect x="369.39" y="388.29" width="7.25" height="3.39" fill="#0567a2"/>
<rect x="376.03" y="388.29" width="8.54" height="3.39" fill="#bcc7e1"/>
<rect x="383.98" y="388.29" width="9.84" height="3.39" fill="#bcc7e1"/>
<rect x="393.22" y="388.29" width="11.13" height="3.39" fill="#c0c9e2"/>
<rect x="403.75" y="388.29" width="12.43" height="3.39" fill="#d1d2e6"/>
<rect x="415.58" y="388.29" width="13.73" height="3.39" fill="#dbdaeb"/>
<rect x="428.71" y="388.29" width="15.02" height="3.39" fill="#dbdaeb"/>
<rect x="443.13" y="388.29" width="16.32" height="3.39" fill="#dbdaeb"/>
<rect x="458.85" y="388.29" width="17.61" height="3.39" fill="#dbdaeb"/>
<rect x="475.86" y="388.29" width="18.91" height="3.39" fill="#dbdaeb"/>
<rect x="494.17" y="388.29" width="20.21" height="3.39" fill="#dbdaeb"/>
<rect x="513.78" y="388.29" width="21.5" height="3.39" fill="#3d93c2"/>
<rect x="534.68" y="388.29" width="22.8" height="3.39" fill="#3d93c2"/>
<rect x="556.87" y="388.29" width="24.09" height="3.39" fill="#6fa7ce"/>
<rect x="580.37" y="388.29" width="25.39" height="3.39" fill="#187cb6"/>
<rect x="605.16" y="388.29" width="26.68" height="3.39" fill="#056caa"/>
<rect x="357.22" y="384.19" width="3.36" height="4.69" fill="#04588a"/>
<rect x="359.98" y="384.19" width="4.66" height="4.69" fill="#045e94"/>
<rect x="364.04" y="384.19" width="5.95" height="4.69" fill="#045e94"/>
<rect x="369.39" y="384.19" width="7.25" height="4.69" fill="#88b1d4"/>
<rect x="376.03" y="384.19" width="8.54" height="4.69" fill="#5c9fc9"/>
<rect x="383.98" y="384.19" width="9.84" height="4.69" fill="#b5c4df"/>
<rect x="393.22" y="384.19" width="11.13" height="4.69" fill="#b5c4df"/>
<rect x="403.75" y="384.19" width="12.43" height="4.69" fill="#dedcec"/>
<rect x="415.58" y="384.19" width="13.73" height="4.69" fill="#dedcec"/>
<rect x="428.71" y="384.19" width="15.02" height="4.69" fill="#e0dded"/>
<rect x="443.13" y="384.19" width="16.32" height="4.69" fill="#d5d5e8"/>
<rect x="458.85" y="384.19" width="17.61" height="4.69" fill="#d5d5e8"/>
<rect x="475.86" y="384.19" width="18.91" height="4.69" fill="#dbdaeb"/>
<rect x="494.17" y="384.19" width="20.21" height="4.69" fill="#b1c2de"/>
<rect x="513.78" y="384.19" width="21.5" height="4.69" fill="#308cbe"/>
<rect x="534.68" y="384.19" width="22.8" height="4.69" fill="#3d93c2"/>
<rect x="556.87" y="384.19" width="24.09" height="4.69" fill="#80aed2"/>
<rect x="580.37" y="384.19" width="25.39" height="4.69" fill="#308cbe"/>
<rect x="605.16" y="384.19" width="26.68" height="4.69" fill="#056caa"/>
<rect x="357.22" y="378.79" width="3.36" height="6" fill="#045382"/>
<rect x="359.98" y="378.79" width="4.66" height="6" fill="#04588a"/>
<rect x="364.04" y="378.79" width="5.95" height="6" fill="#0569a4"/>
<rect x="369.39" y="378.79" width="7.25" height="6" fill="#94b6d7"/>
<rect x="376.03" y="378.79" width="8.54" height="6" fill="#a8bedc"/>
<rect x="383.98" y="378.79" width="9.84" height="6" fill="#b5c4df"/>
<rect x="393.22" y="378.79" width="11.13" height="6" fill="#b5c4df"/>
<rect x="403.75" y="378.79" width="12.43" height="6" fill="#b5c4df"/>
<rect x="415.58" y="378.79" width="13.73" height="6" fill="#dedcec"/>
<rect x="428.71" y="378.79" width="15.02" height="6" fill="#e9e5f1"/>
<rect x="443.13" y="378.79" width="16.32" height="6" fill="#d2d3e7"/>
<rect x="458.85" y="378.79" width="17.61" height="6" fill="#d5d5e8"/>
<rect x="475.86" y="378.79" width="18.91" height="6" fill="#dbdaeb"/>
<rect x="494.17" y="378.79" width="20.21" height="6" fill="#bcc7e1"/>
<rect x="513.78" y="378.79" width="21.5" height="6" fill="#046299"/>
<rect x="534.68" y="378.79" width="22.8" height="6" fill="#348ebf"/>
<rect x="556.87" y="378.79" width="24.09" height="6" fill="#6fa7ce"/>
<rect x="580.37" y="378.79" width="25.39" height="6" fill="#056caa"/>
<rect x="605.16" y="378.79" width="26.68" height="6" fill="#05659f"/>
<rect x="357.22" y="372.08" width="3.36" height="7.31" fill="#045382"/>
<rect x="359.98" y="372.08" width="4.66" height="7.31" fill="#04588a"/>
<rect x="364.04" y="372.08" width="5.95" height="7.31" fill="#0567a2"/>
<rect x="369.39" y="372.08" width="7.25" height="7.31" fill="#88b1d4"/>
<rect x="376.03" y="372.08" width="8.54" height="7.31" fill="#88b1d4"/>
<rect x="383.98" y="372.08" width="9.84" height="7.31" fill="#e5e1ef"/>
<rect x="393.22" y="372.08" width="11.13" height="7.31" fill="#e5e1ef"/>
<rect x="403.75" y="372.08" width="12.43" height="7.31" fill="#b5c4df"/>
<rect x="415.58" y="372.08" width="13.73" height="7.31" fill="#f0eaf4"/>
<rect x="428.71" y="372.08" width="15.02" height="7.31" fill="#e0dded"/>
<rect x="443.13" y="372.08" width="16.32" height="7.31" fill="#d2d3e7"/>
<rect x="458.85" y="372.08" width="17.61" height="7.31" fill="#ede8f3"/>
<rect x="475.86" y="372.08" width="18.91" height="7.31" fill="#d9d8ea"/>
<rect x="494.17" y="372.08" width="20.21" height="7.31" fill="#abbfdc"/>
<rect x="513.78" y="372.08" width="21.5" height="7.31" fill="#03517e"/>
<rect x="534.68" y="372.08" width="22.8" height="7.31" fill="#1c7fb8"/>
<rect x="556.87" y="372.08" width="24.09" height="7.31" fill="#5c9fc9"/>
<rect x="580.37" y="372.08" width="25.39" height="7.31" fill="#046299"/>
<rect x="605.16" y="372.08" width="26.68" height="7.31" fill="#046299"/>
<rect x="357.22" y="364.06" width="3.36" height="8.62" fill="#034871"/>
<rect x="359.98" y="364.06" width="4.66" height="8.62" fill="#03517e"/>
<rect x="364.04" y="364.06" width="5.95" height="8.62" fill="#308cbe"/>
<rect x="369.39" y="364.06" width="7.25" height="8.62" fill="#9cb9d9"/>
<rect x="376.03" y="364.06" width="8.54" height="8.62" fill="#d5d5e8"/>
<rect x="383.98" y="364.06" width="9.84" height="8.62" fill="#d7d6e9"/>
<rect x="393.22" y="364.06" width="11.13" height="8.62" fill="#f3edf5"/>
<rect x="403.75" y="364.06" width="12.43" height="8.62" fill="#dedcec"/>
<rect x="415.58" y="364.06" width="13.73" height="8.62" fill="#bcc7e1"/>
<rect x="428.71" y="364.06" width="15.02" height="8.62" fill="#e5e1ef"/>
<rect x="443.13" y="364.06" width="16.32" height="8.62" fill="#ede8f3"/>
<rect x="458.85" y="364.06" width="17.61" height="8.62" fill="#dbdaeb"/>
<rect x="475.86" y="364.06" width="18.91" height="8.62" fill="#b5c4df"/>
<rect x="494.17" y="364.06" width="20.21" height="8.62" fill="#b1c2de"/>
<rect x="513.78" y="364.06" width="21.5" height="8.62" fill="#046096"/>
<rect x="534.68" y="364.06" width="22.8" height="8.62" fill="#308cbe"/>
<rect x="556.87" y="364.06" width="24.09" height="8.62" fill="#80aed2"/>
<rect x="580.37" y="364.06" width="25.39" height="8.62" fill="#046299"/>
<rect x="605.16" y="364.06" width="26.68" height="8.62" fill="#0567a2"/>
<rect x="357.22" y="354.73" width="3.36" height="9.93" fill="#0567a2"/>
<rect x="359.98" y="354.73" width="4.66" height="9.93" fill="#045382"/>
<rect x="364.04" y="354.73" width="5.95" height="9.93" fill="#5c9fc9"/>
<rect x="369.39" y="354.73" width="7.25" height="9.93" fill="#9cb9d9"/>
<rect x="376.03" y="354.73" width="8.54" height="9.93" fill="#a8bedc"/>
<rect x="383.98" y="354.73" width="9.84" height="9.93" fill="#d9d8ea"/>
<rect x="393.22" y="354.73" width="11.13" height="9.93" fill="#c6cce3"/>
<rect x="403.75" y="354.73" width="12.43" height="9.93" fill="#f3edf5"/>
<rect x="415.58" y="354.73" width="13.73" height="9.93" fill="#f3edf5"/>
<rect x="428.71" y="354.73" width="15.02" height="9.93" fill="#dedcec"/>
<rect x="443.13" y="354.73" width="16.32" height="9.93" fill="#99b8d8"/>
<rect x="458.85" y="354.73" width="17.61" height="9.93" fill="#bcc7e1"/>
<rect x="475.86" y="354.73" width="18.91" height="9.93" fill="#b5c4df"/>
<rect x="494.17" y="354.73" width="20.21" height="9.93" fill="#a4bcda"/>
<rect x="513.78" y="354.73" width="21.5" height="9.93" fill="#046299"/>
<rect x="534.68" y="354.73" width="22.8" height="9.93" fill="#187cb6"/>
<rect x="556.87" y="354.73" width="24.09" height="9.93" fill="#046299"/>
<rect x="580.37" y="354.73" width="25.39" height="9.93" fill="#046096"/>
<rect x="605.16" y="354.73" width="26.68" height="9.93" fill="#03456c"/>
<rect x="357.22" y="344.09" width="3.36" height="11.24" fill="#056caa"/>
<rect x="359.98" y="344.09" width="4.66" height="11.24" fill="#308cbe"/>
<rect x="364.04" y="344.09" width="5.95" height="11.24" fill="#9cb9d9"/>
<rect x="369.39" y="344.09" width="7.25" height="11.24" fill="#d5d5e8"/>
<rect x="376.03" y="344.09" width="8.54" height="11.24" fill="#bcc7e1"/>
<rect x="383.98" y="344.09" width="9.84" height="11.24" fill="#e7e3f0"/>
<rect x="393.22" y="344.09" width="11.13" height="11.24" fill="#f3edf5"/>
<rect x="403.75" y="344.09" width="12.43" height="11.24" fill="#dedcec"/>
<rect x="415.58" y="344.09" width="13.73" height="11.24" fill="#e9e5f1"/>
<rect x="428.71" y="344.09" width="15.02" height="11.24" fill="#cdd0e5"/>
<rect x="443.13" y="344.09" width="16.32" height="11.24" fill="#3d93c2"/>
<rect x="458.85" y="344.09" width="17.61" height="11.24" fill="#b1c2de"/>
<rect x="475.86" y="344.09" width="18.91" height="11.24" fill="#abbfdc"/>
<rect x="494.17" y="344.09" width="20.21" height="11.24" fill="#9cb9d9"/>
<rect x="513.78" y="344.09" width="21.5" height="11.24" fill="#045e94"/>
<rect x="534.68" y="344.09" width="22.8" height="11.24" fill="#0d75b3"/>
<rect x="556.87" y="344.09" width="24.09" height="11.24" fill="#03517e"/>
<rect x="580.37" y="344.09" width="25.39" height="11.24" fill="#04588a"/>
<rect x="605.16" y="344.09" width="26.68" height="11.24" fill="#03456c"/>
<rect x="357.22" y="332.15" width="3.36" height="12.55" fill="#0d75b3"/>
<rect x="359.98" y="332.15" width="4.66" height="12.55" fill="#3d93c2"/>
<rect x="364.04" y="332.15" width="5.95" height="12.55" fill="#b1c2de"/>
<rect x="369.39" y="332.15" width="7.25" height="12.55" fill="#b5c4df"/>
<rect x="376.03" y="332.15" width="8.54" height="12.55" fill="#bcc7e1"/>
<rect x="383.98" y="332.15" width="9.84" height="12.55" fill="#e5e1ef"/>
<rect x="393.22" y="332.15" width="11.13" height="12.55" fill="#dbdaeb"/>
<rect x="403.75" y="332.15" width="12.43" height="12.55" fill="#c6cce3"/>
<rect x="415.58" y="332.15" width="13.73" height="12.55" fill="#e9e5f1"/>
<rect x="428.71" y="332.15" width="15.02" height="12.55" fill="#d1d2e6"/>
<rect x="443.13" y="332.15" width="16.32" height="12.55" fill="#80aed2"/>
<rect x="458.85" y="332.15" width="17.61" height="12.55" fill="#a1bbda"/>
<rect x="475.86" y="332.15" width="18.91" height="12.55" fill="#5c9fc9"/>
<rect x="494.17" y="332.15" width="20.21" height="12.55" fill="#94b6d7"/>
<rect x="513.78" y="332.15" width="21.5" height="12.55" fill="#046096"/>
<rect x="534.68" y="332.15" width="22.8" height="12.55" fill="#0567a2"/>
<rect x="556.87" y="332.15" width="24.09" height="12.55" fill="#046096"/>
<rect x="580.37" y="332.15" width="25.39" height="12.55" fill="#03517e"/>
<rect x="605.16" y="332.15" width="26.68" height="12.55" fill="#045382"/>
<rect x="357.22" y="318.89" width="3.36" height="13.85" fill="#4c99c5"/>
<rect x="359.98" y="318.89" width="4.66" height="13.85" fill="#94b6d7"/>
<rect x="364.04" y="318.89" width="5.95" height="13.85" fill="#f0eaf4"/>
<rect x="369.39" y="318.89" width="7.25" height="13.85" fill="#f3edf5"/>
<rect x="376.03" y="318.89" width="8.54" height="13.85" fill="#e5e1ef"/>
<rect x="383.98" y="318.89" width="9.84" height="13.85" fill="#dbdaeb"/>
<rect x="393.22" y="318.89" width="11.13" height="13.85" fill="#c6cce3"/>
<rect x="403.75" y="318.89" width="12.43" height="13.85" fill="#fef6fa"/>
<rect x="415.58" y="318.89" width="13.73" height="13.85" fill="#fef6fa"/>
<rect x="428.71" y="318.89" width="15.02" height="13.85" fill="#9cb9d9"/>
<rect x="443.13" y="318.89" width="16.32" height="13.85" fill="#88b1d4"/>
<rect x="458.85" y="318.89" width="17.61" height="13.85" fill="#3d93c2"/>
<rect x="475.86" y="318.89" width="18.91" height="13.85" fill="#308cbe"/>
<rect x="494.17" y="318.89" width="20.21" height="13.85" fill="#5c9fc9"/>
<rect x="513.78" y="318.89" width="21.5" height="13.85" fill="#03517e"/>
<rect x="534.68" y="318.89" width="22.8" height="13.85" fill="#046096"/>
<rect x="556.87" y="318.89" width="24.09" height="13.85" fill="#03517e"/>
<rect x="580.37" y="318.89" width="25.39" height="13.85" fill="#0567a2"/>
<rect x="605.16" y="318.89" width="26.68" height="13.85" fill="#034369"/>
<rect x="357.22" y="304.33" width="3.36" height="15.16" fill="#4c99c5"/>
<rect x="359.98" y="304.33" width="4.66" height="15.16" fill="#94b6d7"/>
<rect x="364.04" y="304.33" width="5.95" height="15.16" fill="#d5d5e8"/>
<rect x="369.39" y="304.33" width="7.25" height="15.16" fill="#dbdaeb"/>
<rect x="376.03" y="304.33" width="8.54" height="15.16" fill="#e5e1ef"/>
<rect x="383.98" y="304.33" width="9.84" height="15.16" fill="#dbdaeb"/>
<rect x="393.22" y="304.33" width="11.13" height="15.16" fill="#f0eaf4"/>
<rect x="403.75" y="304.33" width="12.43" height="15.16" fill="#dedcec"/>
<rect x="415.58" y="304.33" width="13.73" height="15.16" fill="#e5e1ef"/>
<rect x="428.71" y="304.33" width="15.02" height="15.16" fill="#187cb6"/>
<rect x="443.13" y="304.33" width="16.32" height="15.16" fill="#80aed2"/>
<rect x="458.85" y="304.33" width="17.61" height="15.16" fill="#84b0d3"/>
<rect x="475.86" y="304.33" width="18.91" height="15.16" fill="#308cbe"/>
<rect x="494.17" y="304.33" width="20.21" height="15.16" fill="#05659f"/>
<rect x="513.78" y="304.33" width="21.5" height="15.16" fill="#03517e"/>
<rect x="534.68" y="304.33" width="22.8" height="15.16" fill="#045e94"/>
<rect x="556.87" y="304.33" width="24.09" height="15.16" fill="#023d60"/>
<rect x="580.37" y="304.33" width="25.39" height="15.16" fill="#03517e"/>
<rect x="605.16" y="304.33" width="26.68" height="15.16" fill="#046299"/>
<rect x="357.22" y="288.46" width="3.36" height="16.47" fill="#60a1ca"/>
<rect x="359.98" y="288.46" width="4.66" height="16.47" fill="#a8bedc"/>
<rect x="364.04" y="288.46" width="5.95" height="16.47" fill="#ede8f3"/>
<rect x="369.39" y="288.46" width="7.25" height="16.47" fill="#f6eff7"/>
<rect x="376.03" y="288.46" width="8.54" height="16.47" fill="#f6eff7"/>
<rect x="383.98" y="288.46" width="9.84" height="16.47" fill="#dedcec"/>
<rect x="393.22" y="288.46" width="11.13" height="16.47" fill="#e2dfee"/>
<rect x="403.75" y="288.46" width="12.43" height="16.47" fill="#dedcec"/>
<rect x="415.58" y="288.46" width="13.73" height="16.47" fill="#f0eaf4"/>
<rect x="428.71" y="288.46" width="15.02" height="16.47" fill="#0d75b3"/>
<rect x="443.13" y="288.46" width="16.32" height="16.47" fill="#6fa7ce"/>
<rect x="458.85" y="288.46" width="17.61" height="16.47" fill="#84b0d3"/>
<rect x="475.86" y="288.46" width="18.91" height="16.47" fill="#046096"/>
<rect x="494.17" y="288.46" width="20.21" height="16.47" fill="#0d75b3"/>
<rect x="513.78" y="288.46" width="21.5" height="16.47" fill="#046096"/>
<rect x="534.68" y="288.46" width="22.8" height="16.47" fill="#023a5b"/>
<rect x="556.87" y="288.46" width="24.09" height="16.47" fill="#03517e"/>
<rect x="580.37" y="288.46" width="25.39" height="16.47" fill="#04588a"/>
<rect x="605.16" y="288.46" width="26.68" height="16.47" fill="#1077b4"/>
<rect x="357.22" y="271.28" width="3.36" height="17.78" fill="#a4bcda"/>
<rect x="359.98" y="271.28" width="4.66" height="17.78" fill="#e9e5f1"/>
<rect x="364.04" y="271.28" width="5.95" height="17.78" fill="#e9e5f1"/>
<rect x="369.39" y="271.28" width="7.25" height="17.78" fill="#dbdaeb"/>
<rect x="376.03" y="271.28" width="8.54" height="17.78" fill="#dedcec"/>
<rect x="383.98" y="271.28" width="9.84" height="17.78" fill="#b1c2de"/>
<rect x="393.22" y="271.28" width="11.13" height="17.78" fill="#c6cce3"/>
<rect x="403.75" y="271.28" width="12.43" height="17.78" fill="#bcc7e1"/>
<rect x="415.58" y="271.28" width="13.73" height="17.78" fill="#c6cce3"/>
<rect x="428.71" y="271.28" width="15.02" height="17.78" fill="#05659f"/>
<rect x="443.13" y="271.28" width="16.32" height="17.78" fill="#1c7fb8"/>
<rect x="458.85" y="271.28" width="17.61" height="17.78" fill="#056caa"/>
<rect x="475.86" y="271.28" width="18.91" height="17.78" fill="#03456c"/>
<rect x="494.17" y="271.28" width="20.21" height="17.78" fill="#045c90"/>
<rect x="513.78" y="271.28" width="21.5" height="17.78" fill="#04588a"/>
<rect x="534.68" y="271.28" width="22.8" height="17.78" fill="#03517e"/>
<rect x="556.87" y="271.28" width="24.09" height="17.78" fill="#03517e"/>
<rect x="580.37" y="271.28" width="25.39" height="17.78" fill="#0d75b3"/>
<rect x="605.16" y="271.28" width="26.68" height="17.78" fill="#308cbe"/>
<rect x="357.22" y="252.79" width="3.36" height="19.09" fill="#bcc7e1"/>
<rect x="359.98" y="252.79" width="4.66" height="19.09" fill="#dbdaeb"/>
<rect x="364.04" y="252.79" width="5.95" height="19.09" fill="#f3edf5"/>
<rect x="369.39" y="252.79" width="7.25" height="19.09" fill="#d7d6e9"/>
<rect x="376.03" y="252.79" width="8.54" height="19.09" fill="#e2dfee"/>
<rect x="383.98" y="252.79" width="9.84" height="19.09" fill="#308cbe"/>
<rect x="393.22" y="252.79" width="11.13" height="19.09" fill="#c6cce3"/>
<rect x="403.75" y="252.79" width="12.43" height="19.09" fill="#b1c2de"/>
<rect x="415.58" y="252.79" width="13.73" height="19.09" fill="#9cb9d9"/>
<rect x="428.71" y="252.79" width="15.02" height="19.09" fill="#046299"/>
<rect x="443.13" y="252.79" width="16.32" height="19.09" fill="#0567a2"/>
<rect x="458.85" y="252.79" width="17.61" height="19.09" fill="#046299"/>
<rect x="475.86" y="252.79" width="18.91" height="19.09" fill="#03456c"/>
<rect x="494.17" y="252.79" width="20.21" height="19.09" fill="#034871"/>
<rect x="513.78" y="252.79" width="21.5" height="19.09" fill="#045e94"/>
<rect x="534.68" y="252.79" width="22.8" height="19.09" fill="#034d79"/>
<rect x="556.87" y="252.79" width="24.09" height="19.09" fill="#046096"/>
<rect x="580.37" y="252.79" width="25.39" height="19.09" fill="#75a9cf"/>
<rect x="605.16" y="252.79" width="26.68" height="19.09" fill="#5c9fc9"/>
<rect x="357.22" y="232.99" width="3.36" height="20.4" fill="#e7e3f0"/>
<rect x="359.98" y="232.99" width="4.66" height="20.4" fill="#e9e5f1"/>
<rect x="364.04" y="232.99" width="5.95" height="20.4" fill="#e9e5f1"/>
<rect x="369.39" y="232.99" width="7.25" height="20.4" fill="#dbdaeb"/>
<rect x="376.03" y="232.99" width="8.54" height="20.4" fill="#e0dded"/>
<rect x="383.98" y="232.99" width="9.84" height="20.4" fill="#5c9fc9"/>
<rect x="393.22" y="232.99" width="11.13" height="20.4" fill="#88b1d4"/>
<rect x="403.75" y="232.99" width="12.43" height="20.4" fill="#5c9fc9"/>
<rect x="415.58" y="232.99" width="13.73" height="20.4" fill="#9cb9d9"/>
<rect x="428.71" y="232.99" width="15.02" height="20.4" fill="#04588a"/>
<rect x="443.13" y="232.99" width="16.32" height="20.4" fill="#046299"/>
<rect x="458.85" y="232.99" width="17.61" height="20.4" fill="#045687"/>
<rect x="475.86" y="232.99" width="18.91" height="20.4" fill="#046096"/>
<rect x="494.17" y="232.99" width="20.21" height="20.4" fill="#03456c"/>
<rect x="513.78" y="232.99" width="21.5" height="20.4" fill="#046299"/>
<rect x="534.68" y="232.99" width="22.8" height="20.4" fill="#056ba7"/>
<rect x="556.87" y="232.99" width="24.09" height="20.4" fill="#187cb6"/>
<rect x="580.37" y="232.99" width="25.39" height="20.4" fill="#5c9fc9"/>
<rect x="605.16" y="232.99" width="26.68" height="20.4" fill="#94b6d7"/>
<rect x="357.22" y="211.89" width="3.36" height="21.7" fill="#b5c4df"/>
<rect x="359.98" y="211.89" width="4.66" height="21.7" fill="#dbdaeb"/>
<rect x="364.04" y="211.89" width="5.95" height="21.7" fill="#ede8f3"/>
<rect x="369.39" y="211.89" width="7.25" height="21.7" fill="#a4bcda"/>
<rect x="376.03" y="211.89" width="8.54" height="21.7" fill="#c2cbe2"/>
<rect x="383.98" y="211.89" width="9.84" height="21.7" fill="#0567a2"/>
<rect x="393.22" y="211.89" width="11.13" height="21.7" fill="#88b1d4"/>
<rect x="403.75" y="211.89" width="12.43" height="21.7" fill="#5c9fc9"/>
<rect x="415.58" y="211.89" width="13.73" height="21.7" fill="#3d93c2"/>
<rect x="428.71" y="211.89" width="15.02" height="21.7" fill="#034871"/>
<rect x="443.13" y="211.89" width="16.32" height="21.7" fill="#045687"/>
<rect x="458.85" y="211.89" width="17.61" height="21.7" fill="#045687"/>
<rect x="475.86" y="211.89" width="18.91" height="21.7" fill="#04588a"/>
<rect x="494.17" y="211.89" width="20.21" height="21.7" fill="#1077b4"/>
<rect x="513.78" y="211.89" width="21.5" height="21.7" fill="#308cbe"/>
<rect x="534.68" y="211.89" width="22.8" height="21.7" fill="#69a5cc"/>
<rect x="556.87" y="211.89" width="24.09" height="21.7" fill="#5c9fc9"/>
<rect x="580.37" y="211.89" width="25.39" height="21.7" fill="#65a3cb"/>
<rect x="605.16" y="211.89" width="26.68" height="21.7" fill="#c9cee4"/>
<rect x="357.22" y="189.48" width="3.36" height="23.01" fill="#e0dded"/>
<rect x="359.98" y="189.48" width="4.66" height="23.01" fill="#e0dded"/>
<rect x="364.04" y="189.48" width="5.95" height="23.01" fill="#b1c2de"/>
<rect x="369.39" y="189.48" width="7.25" height="23.01" fill="#80aed2"/>
<rect x="376.03" y="189.48" width="8.54" height="23.01" fill="#84b0d3"/>
<rect x="383.98" y="189.48" width="9.84" height="23.01" fill="#046299"/>
<rect x="393.22" y="189.48" width="11.13" height="23.01" fill="#308cbe"/>
<rect x="403.75" y="189.48" width="12.43" height="23.01" fill="#046299"/>
<rect x="415.58" y="189.48" width="13.73" height="23.01" fill="#046299"/>
<rect x="428.71" y="189.48" width="15.02" height="23.01" fill="#03456c"/>
<rect x="443.13" y="189.48" width="16.32" height="23.01" fill="#045687"/>
<rect x="458.85" y="189.48" width="17.61" height="23.01" fill="#034a74"/>
<rect x="475.86" y="189.48" width="18.91" height="23.01" fill="#04649d"/>
<rect x="494.17" y="189.48" width="20.21" height="23.01" fill="#05659f"/>
<rect x="513.78" y="189.48" width="21.5" height="23.01" fill="#b9c6e0"/>
<rect x="534.68" y="189.48" width="22.8" height="23.01" fill="#a4bcda"/>
<rect x="556.87" y="189.48" width="24.09" height="23.01" fill="#b9c6e0"/>
<rect x="580.37" y="189.48" width="25.39" height="23.01" fill="#b9c6e0"/>
<rect x="605.16" y="189.48" width="26.68" height="23.01" fill="#c9cee4"/>
<rect x="357.22" y="165.75" width="3.36" height="24.32" fill="#e0dded"/>
<rect x="359.98" y="165.75" width="4.66" height="24.32" fill="#e0dded"/>
<rect x="364.04" y="165.75" width="5.95" height="24.32" fill="#308cbe"/>
<rect x="369.39" y="165.75" width="7.25" height="24.32" fill="#3d93c2"/>
<rect x="376.03" y="165.75" width="8.54" height="24.32" fill="#75a9cf"/>
<rect x="383.98" y="165.75" width="9.84" height="24.32" fill="#03517e"/>
<rect x="393.22" y="165.75" width="11.13" height="24.32" fill="#046096"/>
<rect x="403.75" y="165.75" width="12.43" height="24.32" fill="#04588a"/>
<rect x="415.58" y="165.75" width="13.73" height="24.32" fill="#04588a"/>
<rect x="428.71" y="165.75" width="15.02" height="24.32" fill="#045c90"/>
<rect x="443.13" y="165.75" width="16.32" height="24.32" fill="#046299"/>
<rect x="458.85" y="165.75" width="17.61" height="24.32" fill="#04588a"/>
<rect x="475.86" y="165.75" width="18.91" height="24.32" fill="#65a3cb"/>
<rect x="494.17" y="165.75" width="20.21" height="24.32" fill="#60a1ca"/>
<rect x="513.78" y="165.75" width="21.5" height="24.32" fill="#b9c6e0"/>
<rect x="534.68" y="165.75" width="22.8" height="24.32" fill="#c6cce3"/>
<rect x="556.87" y="165.75" width="24.09" height="24.32" fill="#c6cce3"/>
<rect x="580.37" y="165.75" width="25.39" height="24.32" fill="#ebe6f2"/>
<rect x="605.16" y="165.75" width="26.68" height="24.32" fill="#dbdaeb"/>
<rect x="357.22" y="140.72" width="3.36" height="25.63" fill="#e9e5f1"/>
<rect x="359.98" y="140.72" width="4.66" height="25.63" fill="#a8bedc"/>
<rect x="364.04" y="140.72" width="5.95" height="25.63" fill="#4c99c5"/>
<rect x="369.39" y="140.72" width="7.25" height="25.63" fill="#05659f"/>
<rect x="376.03" y="140.72" width="8.54" height="25.63" fill="#05659f"/>
<rect x="383.98" y="140.72" width="9.84" height="25.63" fill="#03517e"/>
<rect x="393.22" y="140.72" width="11.13" height="25.63" fill="#046096"/>
<rect x="403.75" y="140.72" width="12.43" height="25.63" fill="#03456c"/>
<rect x="415.58" y="140.72" width="13.73" height="25.63" fill="#03456c"/>
<rect x="428.71" y="140.72" width="15.02" height="25.63" fill="#05659f"/>
<rect x="443.13" y="140.72" width="16.32" height="25.63" fill="#04588a"/>
<rect x="458.85" y="140.72" width="17.61" height="25.63" fill="#5c9fc9"/>
<rect x="475.86" y="140.72" width="18.91" height="25.63" fill="#9cb9d9"/>
<rect x="494.17" y="140.72" width="20.21" height="25.63" fill="#c6cce3"/>
<rect x="513.78" y="140.72" width="21.5" height="25.63" fill="#e2dfee"/>
<rect x="534.68" y="140.72" width="22.8" height="25.63" fill="#dbdaeb"/>
<rect x="556.87" y="140.72" width="24.09" height="25.63" fill="#dbdaeb"/>
<rect x="580.37" y="140.72" width="25.39" height="25.63" fill="#f0eaf4"/>
<rect x="605.16" y="140.72" width="26.68" height="25.63" fill="#f0eaf4"/>
<rect x="357.22" y="114.38" width="3.36" height="26.94" fill="#e0dded"/>
<rect x="359.98" y="114.38" width="4.66" height="26.94" fill="#4c99c5"/>
<rect x="364.04" y="114.38" width="5.95" height="26.94" fill="#046299"/>
<rect x="369.39" y="114.38" width="7.25" height="26.94" fill="#045382"/>
<rect x="376.03" y="114.38" width="8.54" height="26.94" fill="#03517e"/>
<rect x="383.98" y="114.38" width="9.84" height="26.94" fill="#045e94"/>
<rect x="393.22" y="114.38" width="11.13" height="26.94" fill="#03517e"/>
<rect x="403.75" y="114.38" width="12.43" height="26.94" fill="#04588a"/>
<rect x="415.58" y="114.38" width="13.73" height="26.94" fill="#04588a"/>
<rect x="428.71" y="114.38" width="15.02" height="26.94" fill="#5c9fc9"/>
<rect x="443.13" y="114.38" width="16.32" height="26.94" fill="#5c9fc9"/>
<rect x="458.85" y="114.38" width="17.61" height="26.94" fill="#5c9fc9"/>
<rect x="475.86" y="114.38" width="18.91" height="26.94" fill="#a4bcda"/>
<rect x="494.17" y="114.38" width="20.21" height="26.94" fill="#dbdaeb"/>
<rect x="513.78" y="114.38" width="21.5" height="26.94" fill="#e7e3f0"/>
<rect x="534.68" y="114.38" width="22.8" height="26.94" fill="#d1d2e6"/>
<rect x="556.87" y="114.38" width="24.09" height="26.94" fill="#dbdaeb"/>
<rect x="580.37" y="114.38" width="25.39" height="26.94" fill="#e7e3f0"/>
<rect x="605.16" y="114.38" width="26.68" height="26.94" fill="#f3edf5"/>
</svg>
<line x1="406.98" y1="390.9" x2="406.98" y2="394.7" stroke="#111" stroke-width="0.9"/>
<line x1="406.98" y1="129.4" x2="406.98" y2="132.8" stroke="#111" stroke-width="0.9"/>
<text transform="translate(402.53,408.94) scale(0.1157,0.1120)" font-family="Liberation Serif" font-size="100" font-style="normal" font-weight="normal" fill="#1a1a1a">15</text>
<line x1="357.2" y1="341.51" x2="353.4" y2="341.51" stroke="#111" stroke-width="0.9"/>
<line x1="618.3" y1="341.51" x2="614.9" y2="341.51" stroke="#111" stroke-width="0.9"/>
<text transform="translate(336.97,346.45) scale(0.1111,0.1179)" font-family="Liberation Serif" font-size="100" font-style="normal" font-weight="normal" fill="#1a1a1a">15</text>
<line x1="458.46" y1="390.9" x2="458.46" y2="394.7" stroke="#111" stroke-width="0.9"/>
<line x1="458.46" y1="129.4" x2="458.46" y2="132.8" stroke="#111" stroke-width="0.9"/>
<text transform="translate(453.58,408.94) scale(0.1182,0.1111)" font-family="Liberation Serif" font-size="100" font-style="normal" font-weight="normal" fill="#1a1a1a">30</text>
<line x1="357.2" y1="290.07" x2="353.4" y2="290.07" stroke="#111" stroke-width="0.9"/>
<line x1="618.3" y1="290.07" x2="614.9" y2="290.07" stroke="#111" stroke-width="0.9"/>
<text transform="translate(336.81,295.01) scale(0.1127,0.1171)" font-family="Liberation Serif" font-size="100" font-style="normal" font-weight="normal" fill="#1a1a1a">30</text>
<line x1="509.94" y1="390.9" x2="509.94" y2="394.7" stroke="#111" stroke-width="0.9"/>
<line x1="509.94" y1="129.4" x2="509.94" y2="132.8" stroke="#111" stroke-width="0.9"/>
<text transform="translate(504.21,408.94) scale(0.1253,0.1123)" font-family="Liberation Serif" font-size="100" font-style="normal" font-weight="normal" fill="#1a1a1a">45</text>
<line x1="357.2" y1="238.63" x2="353.4" y2="238.63" stroke="#111" stroke-width="0.9"/>
<line x1="618.3" y1="238.63" x2="614.9" y2="238.63" stroke="#111" stroke-width="0.9"/>
<text transform="translate(337.14,243.57) scale(0.1094,0.1183)" font-family="Liberation Serif" font-size="100" font-style="normal" font-weight="normal" fill="#1a1a1a">45</text>
<line x1="561.42" y1="390.9" x2="561.42" y2="394.7" stroke="#111" stroke-width="0.9"/>
<line x1="561.42" y1="129.4" x2="561.42" y2="132.8" stroke="#111" stroke-width="0.9"/>
<text transform="translate(556.14,408.94) scale(0.1186,0.1111)" font-family="Liberation Serif" font-size="100" font-style="normal" font-weight="normal" fill="#1a1a1a">60</text>
<line x1="357.2" y1="187.19" x2="353.4" y2="187.19" stroke="#111" stroke-width="0.9"/>
<line x1="618.3" y1="187.19" x2="614.9" y2="187.19" stroke="#111" stroke-width="0.9"/>
<text transform="translate(336.87,192.13) scale(0.1121,0.1171)" font-family="Liberation Serif" font-size="100" font-style="normal" font-weight="normal" fill="#1a1a1a">60</text>
<rect x="357.2" y="129.4" width="261.1" height="261.5" fill="none" stroke="#111" stroke-width="0.95"/>
<text x="463.36" y="424.97" font-family="Liberation Serif" font-size="13.27" font-style="normal" font-weight="normal" fill="#1a1a1a">Signal power [mW]</text>
<g transform="translate(314.6,317.2) rotate(-90)"><text x="-0.04" y="9.46" font-family="Liberation Serif" font-size="13.54" font-style="normal" font-weight="normal" fill="#1a1a1a">Idler power [mW]</text></g>
<rect x="357.2" y="63.5" width="261.1" height="65.9" fill="none" stroke="#111" stroke-width="0.95"/>
<path d="M357.2,84.31 L358.84,84.72 L360.48,85.14 L362.13,85.58 L363.77,86.02 L365.41,86.48 L367.05,86.94 L368.69,87.42 L370.34,87.9 L371.98,88.39 L373.62,88.89 L375.26,89.39 L376.91,89.9 L378.55,90.42 L380.19,90.94 L381.83,91.46 L383.47,91.99 L385.12,92.52 L386.76,93.05 L388.4,93.58 L390.04,94.11 L391.68,94.64 L393.33,95.17 L394.97,95.7 L396.61,96.23 L398.25,96.75 L399.9,97.27 L401.54,97.79 L403.18,98.3 L404.82,98.81 L406.46,99.32 L408.11,99.81 L409.75,100.31 L411.39,100.79 L413.03,101.27 L414.67,101.74 L416.32,102.2 L417.96,102.66 L419.6,103.11 L421.24,103.54 L422.89,103.97 L424.53,104.39 L426.17,104.8 L427.81,105.19 L429.45,105.58 L431.1,105.96 L432.74,106.32 L434.38,106.67 L436.02,107.01 L437.66,107.34 L439.31,107.65 L440.95,107.96 L442.59,108.25 L444.23,108.52 L445.88,108.78 L447.52,109.03 L449.16,109.27 L450.8,109.49 L452.44,109.69 L454.09,109.88 L455.73,110.06 L457.37,110.22 L459.01,110.37 L460.65,110.5 L462.3,110.62 L463.94,110.72 L465.58,110.81 L467.22,110.88 L468.87,110.94 L470.51,110.98 L472.15,111.01 L473.79,111.02 L475.43,111.01 L477.08,110.99 L478.72,110.96 L480.36,110.91 L482,110.84 L483.64,110.76 L485.29,110.66 L486.93,110.55 L488.57,110.42 L490.21,110.28 L491.86,110.12 L493.5,109.95 L495.14,109.77 L496.78,109.57 L498.42,109.35 L500.07,109.13 L501.71,108.88 L503.35,108.63 L504.99,108.36 L506.63,108.08 L508.28,107.78 L509.92,107.47 L511.56,107.15 L513.2,106.82 L514.85,106.47 L516.49,106.12 L518.13,105.75 L519.77,105.37 L521.41,104.98 L523.06,104.58 L524.7,104.17 L526.34,103.75 L527.98,103.32 L529.62,102.88 L531.27,102.43 L532.91,101.98 L534.55,101.52 L536.19,101.05 L537.84,100.57 L539.48,100.09 L541.12,99.6 L542.76,99.1 L544.4,98.6 L546.05,98.1 L547.69,97.59 L549.33,97.08 L550.97,96.57 L552.61,96.05 L554.26,95.53 L555.9,95.01 L557.54,94.49 L559.18,93.97 L560.83,93.45 L562.47,92.93 L564.11,92.42 L565.75,91.9 L567.39,91.39 L569.04,90.89 L570.68,90.38 L572.32,89.89 L573.96,89.4 L575.6,88.91 L577.25,88.43 L578.89,87.96 L580.53,87.5 L582.17,87.05 L583.82,86.61 L585.46,86.18 L587.1,85.77 L588.74,85.36 L590.38,84.97 L592.03,84.59 L593.67,84.23 L595.31,83.89 L596.95,83.56 L598.59,83.25 L600.24,82.95 L601.88,82.68 L603.52,82.43 L605.16,82.2 L606.81,81.99 L608.45,81.81 L610.09,81.65 L611.73,81.51 L613.37,81.4 L615.02,81.32 L616.66,81.27 L618.3,81.24" fill="none" stroke="#1f6fa8" stroke-width="1.7"/>
<line x1="618.3" y1="69.4" x2="622.1" y2="69.4" stroke="#111" stroke-width="0.9"/>
<text transform="translate(625.32,74.09) scale(0.1174,0.1134)" font-family="Liberation Serif" font-size="100" font-style="normal" font-weight="normal" fill="#1a1a1a">1.0</text>
<line x1="618.3" y1="117.08" x2="622.1" y2="117.08" stroke="#111" stroke-width="0.9"/>
<text transform="translate(626.78,121.50) scale(0.1236,0.1031)" font-family="Liberation Serif" font-size="100" font-style="normal" font-weight="normal" fill="#1a1a1a">0.2</text>
<rect x="618.3" y="129.4" width="65.1" height="261.5" fill="none" stroke="#111" stroke-width="0.95"/>
<path d="M660.88,129.4 L660.65,131.04 L660.41,132.69 L660.17,134.33 L659.91,135.98 L659.64,137.62 L659.36,139.27 L659.08,140.91 L658.78,142.56 L658.47,144.2 L658.15,145.85 L657.83,147.49 L657.5,149.14 L657.16,150.78 L656.81,152.43 L656.46,154.07 L656.1,155.71 L655.74,157.36 L655.37,159 L655,160.65 L654.62,162.29 L654.24,163.94 L653.86,165.58 L653.47,167.23 L653.08,168.87 L652.69,170.52 L652.29,172.16 L651.9,173.81 L651.5,175.45 L651.1,177.09 L650.71,178.74 L650.31,180.38 L649.91,182.03 L649.52,183.67 L649.12,185.32 L648.73,186.96 L648.33,188.61 L647.94,190.25 L647.56,191.9 L647.17,193.54 L646.79,195.19 L646.41,196.83 L646.03,198.48 L645.66,200.12 L645.25,201.76 L644.85,203.41 L644.46,205.05 L644.07,206.7 L643.68,208.34 L643.3,209.99 L642.93,211.63 L642.56,213.28 L642.19,214.92 L641.84,216.57 L641.49,218.21 L641.14,219.86 L640.81,221.5 L640.48,223.15 L640.16,224.79 L639.84,226.43 L639.54,228.08 L639.24,229.72 L638.95,231.37 L638.67,233.01 L638.39,234.66 L638.13,236.3 L637.87,237.95 L637.63,239.59 L637.39,241.24 L637.16,242.88 L636.94,244.53 L636.73,246.17 L636.53,247.82 L636.34,249.46 L636.16,251.1 L635.99,252.75 L635.83,254.39 L635.68,256.04 L635.54,257.68 L635.41,259.33 L635.29,260.97 L635.18,262.62 L635.08,264.26 L634.99,265.91 L634.92,267.55 L634.85,269.2 L634.79,270.84 L634.75,272.48 L634.71,274.13 L634.69,275.77 L634.67,277.42 L634.67,279.06 L634.68,280.71 L634.7,282.35 L634.73,284 L634.77,285.64 L634.82,287.29 L634.88,288.93 L634.95,290.58 L635.04,292.22 L635.13,293.87 L635.24,295.51 L635.35,297.15 L635.48,298.8 L635.61,300.44 L635.76,302.09 L635.91,303.73 L636.08,305.38 L636.26,307.02 L636.44,308.67 L636.64,310.31 L636.84,311.96 L637.06,313.6 L637.28,315.25 L637.52,316.89 L637.76,318.54 L638.02,320.18 L638.28,321.82 L638.55,323.47 L638.83,325.11 L639.12,326.76 L639.41,328.4 L639.72,330.05 L640.03,331.69 L640.35,333.34 L640.68,334.98 L641.02,336.63 L641.36,338.27 L641.71,339.92 L642.07,341.56 L642.43,343.21 L642.8,344.85 L643.18,346.49 L643.56,348.14 L643.95,349.78 L644.34,351.43 L644.74,353.07 L645.14,354.72 L645.55,356.36 L645.97,358.01 L646.38,359.65 L646.81,361.3 L647.23,362.94 L647.66,364.59 L648.09,366.23 L648.53,367.87 L648.96,369.52 L649.4,371.16 L649.84,372.81 L650.28,374.45 L650.73,376.1 L651.17,377.74 L651.62,379.39 L652.06,381.03 L652.51,382.68 L652.95,384.32 L653.4,385.97 L653.84,387.61 L654.28,389.26 L654.72,390.9 L657.72,390.9 L657.28,389.26 L656.84,387.61 L656.4,385.97 L655.95,384.32 L655.51,382.68 L655.06,381.03 L654.62,379.39 L654.17,377.74 L653.73,376.1 L653.28,374.45 L652.84,372.81 L652.4,371.16 L651.96,369.52 L651.53,367.87 L651.09,366.23 L650.66,364.59 L650.23,362.94 L649.81,361.3 L649.38,359.65 L648.97,358.01 L648.55,356.36 L648.14,354.72 L647.74,353.07 L647.34,351.43 L646.95,349.78 L646.56,348.14 L646.18,346.49 L645.8,344.85 L645.43,343.21 L645.07,341.56 L644.71,339.92 L644.36,338.27 L644.02,336.63 L643.68,334.98 L643.35,333.34 L643.03,331.69 L642.72,330.05 L642.41,328.4 L642.12,326.76 L641.83,325.11 L641.55,323.47 L641.28,321.82 L641.02,320.18 L640.76,318.54 L640.52,316.89 L640.28,315.25 L640.06,313.6 L639.84,311.96 L639.64,310.31 L639.44,308.67 L639.26,307.02 L639.08,305.38 L638.91,303.73 L638.76,302.09 L638.61,300.44 L638.48,298.8 L638.35,297.15 L638.24,295.51 L638.13,293.87 L638.04,292.22 L637.95,290.58 L637.88,288.93 L637.82,287.29 L637.77,285.64 L637.73,284 L637.7,282.35 L637.68,280.71 L637.67,279.06 L637.67,277.42 L637.69,275.77 L637.71,274.13 L637.75,272.48 L637.79,270.84 L637.85,269.2 L637.92,267.55 L637.99,265.91 L638.08,264.26 L638.18,262.62 L638.29,260.97 L638.41,259.33 L638.54,257.68 L638.68,256.04 L638.83,254.39 L638.99,252.75 L639.16,251.1 L639.34,249.46 L639.53,247.82 L639.73,246.17 L639.94,244.53 L640.16,242.88 L640.39,241.24 L640.63,239.59 L640.87,237.95 L641.13,236.3 L641.39,234.66 L641.67,233.01 L641.95,231.37 L642.24,229.72 L642.54,228.08 L642.84,226.43 L643.16,224.79 L643.48,223.15 L643.81,221.5 L644.14,219.86 L644.49,218.21 L644.84,216.57 L645.19,214.92 L645.56,213.28 L645.93,211.63 L646.3,209.99 L646.68,208.34 L647.07,206.7 L647.46,205.05 L647.85,203.41 L648.25,201.76 L648.66,200.12 L649.1,198.48 L649.55,196.83 L650.01,195.19 L650.47,193.54 L650.93,191.9 L651.39,190.25 L651.85,188.61 L652.32,186.96 L652.79,185.32 L653.26,183.67 L653.73,182.03 L654.21,180.38 L654.68,178.74 L655.15,177.09 L655.62,175.45 L656.09,173.81 L656.57,172.16 L657.03,170.52 L657.5,168.87 L657.97,167.23 L658.43,165.58 L658.89,163.94 L659.34,162.29 L659.8,160.65 L660.25,159 L660.69,157.36 L661.13,155.71 L661.56,154.07 L661.99,152.43 L662.41,150.78 L662.82,149.14 L663.23,147.49 L663.63,145.85 L664.02,144.2 L664.4,142.56 L664.78,140.91 L665.14,139.27 L665.49,137.62 L665.84,135.98 L666.17,134.33 L666.49,132.69 L666.8,131.04 L667.08,129.4Z" fill="#d4d3ee"/>
<path d="M663.98,129.4 L663.72,131.04 L663.45,132.69 L663.17,134.33 L662.87,135.98 L662.57,137.62 L662.25,139.27 L661.93,140.91 L661.59,142.56 L661.25,144.2 L660.89,145.85 L660.53,147.49 L660.16,149.14 L659.78,150.78 L659.4,152.43 L659.01,154.07 L658.62,155.71 L658.21,157.36 L657.81,159 L657.4,160.65 L656.98,162.29 L656.56,163.94 L656.14,165.58 L655.72,167.23 L655.29,168.87 L654.86,170.52 L654.43,172.16 L654,173.81 L653.56,175.45 L653.13,177.09 L652.69,178.74 L652.26,180.38 L651.82,182.03 L651.39,183.67 L650.96,185.32 L650.52,186.96 L650.09,188.61 L649.67,190.25 L649.24,191.9 L648.82,193.54 L648.4,195.19 L647.98,196.83 L647.57,198.48 L647.16,200.12 L646.75,201.76 L646.35,203.41 L645.96,205.05 L645.57,206.7 L645.18,208.34 L644.8,209.99 L644.43,211.63 L644.06,213.28 L643.69,214.92 L643.34,216.57 L642.99,218.21 L642.64,219.86 L642.31,221.5 L641.98,223.15 L641.66,224.79 L641.34,226.43 L641.04,228.08 L640.74,229.72 L640.45,231.37 L640.17,233.01 L639.89,234.66 L639.63,236.3 L639.37,237.95 L639.13,239.59 L638.89,241.24 L638.66,242.88 L638.44,244.53 L638.23,246.17 L638.03,247.82 L637.84,249.46 L637.66,251.1 L637.49,252.75 L637.33,254.39 L637.18,256.04 L637.04,257.68 L636.91,259.33 L636.79,260.97 L636.68,262.62 L636.58,264.26 L636.49,265.91 L636.42,267.55 L636.35,269.2 L636.29,270.84 L636.25,272.48 L636.21,274.13 L636.19,275.77 L636.17,277.42 L636.17,279.06 L636.18,280.71 L636.2,282.35 L636.23,284 L636.27,285.64 L636.32,287.29 L636.38,288.93 L636.45,290.58 L636.54,292.22 L636.63,293.87 L636.74,295.51 L636.85,297.15 L636.98,298.8 L637.11,300.44 L637.26,302.09 L637.41,303.73 L637.58,305.38 L637.76,307.02 L637.94,308.67 L638.14,310.31 L638.34,311.96 L638.56,313.6 L638.78,315.25 L639.02,316.89 L639.26,318.54 L639.52,320.18 L639.78,321.82 L640.05,323.47 L640.33,325.11 L640.62,326.76 L640.91,328.4 L641.22,330.05 L641.53,331.69 L641.85,333.34 L642.18,334.98 L642.52,336.63 L642.86,338.27 L643.21,339.92 L643.57,341.56 L643.93,343.21 L644.3,344.85 L644.68,346.49 L645.06,348.14 L645.45,349.78 L645.84,351.43 L646.24,353.07 L646.64,354.72 L647.05,356.36 L647.47,358.01 L647.88,359.65 L648.31,361.3 L648.73,362.94 L649.16,364.59 L649.59,366.23 L650.03,367.87 L650.46,369.52 L650.9,371.16 L651.34,372.81 L651.78,374.45 L652.23,376.1 L652.67,377.74 L653.12,379.39 L653.56,381.03 L654.01,382.68 L654.45,384.32 L654.9,385.97 L655.34,387.61 L655.78,389.26 L656.22,390.9" fill="none" stroke="#1f6fa8" stroke-width="1.7"/>
<line x1="630.5" y1="390.9" x2="630.5" y2="394.7" stroke="#111" stroke-width="0.9"/>
<text transform="translate(623.01,408.89) scale(0.1158,0.1134)" font-family="Liberation Serif" font-size="100" font-style="normal" font-weight="normal" fill="#1a1a1a">0.2</text>
<line x1="677.5" y1="390.9" x2="677.5" y2="394.7" stroke="#111" stroke-width="0.9"/>
<text transform="translate(670.81,408.89) scale(0.1183,0.1134)" font-family="Liberation Serif" font-size="100" font-style="normal" font-weight="normal" fill="#1a1a1a">1.0</text>
</svg></div>
</body></html>
